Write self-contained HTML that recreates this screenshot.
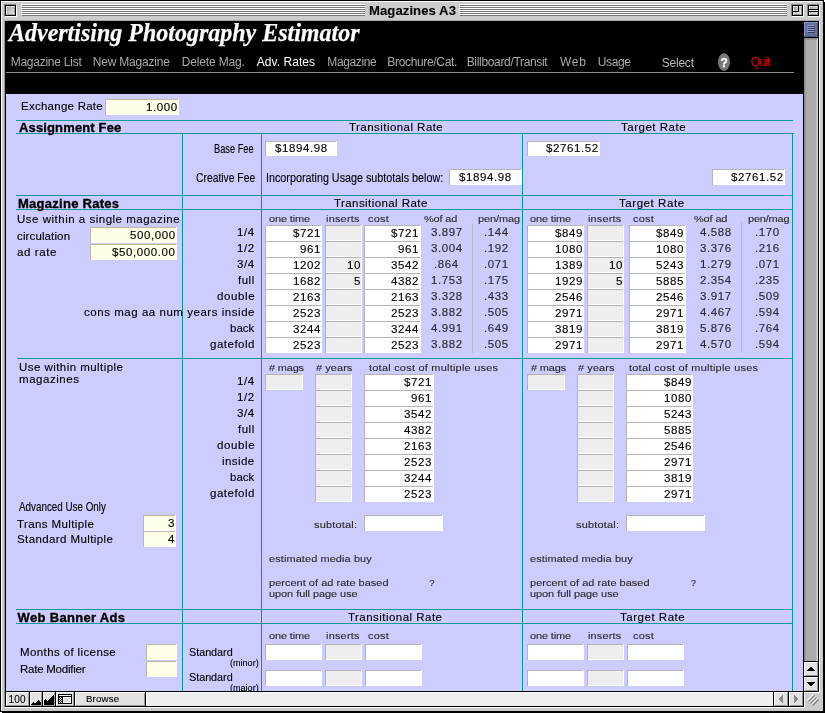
<!DOCTYPE html>
<html><head><meta charset="utf-8"><title>Magazines A3</title>
<style>
html,body{margin:0;padding:0;background:#fff}
#w{will-change:transform;position:relative;width:825px;height:713px;overflow:hidden;background:#fff;font-family:'Liberation Sans',sans-serif}
#w i{position:absolute;display:block}
#w b{position:absolute;display:block;white-space:pre;font-weight:normal;transform-origin:0 0}
#w svg{position:absolute;display:block}
</style></head>
<body><div id="w">
<i style="left:0px;top:0px;width:824px;height:712px;background:#000"></i>
<i style="left:824px;top:2px;width:1px;height:711px;background:#000"></i>
<i style="left:2px;top:712px;width:823px;height:1px;background:#000"></i>
<i style="left:1px;top:1px;width:822px;height:710px;background:#cccccc"></i>
<i style="left:1px;top:1px;width:821px;height:1px;background:#fff"></i>
<i style="left:1px;top:1px;width:1px;height:709px;background:#fff"></i>
<i style="left:822px;top:2px;width:1px;height:709px;background:#c4c4c4"></i>
<i style="left:2px;top:710px;width:821px;height:1px;background:#c4c4c4"></i>
<i style="left:4px;top:21px;width:1px;height:686px;background:#999"></i>
<i style="left:4px;top:20px;width:815px;height:1px;background:#a4a4a4"></i>
<i style="left:21px;top:4px;width:344px;height:1px;background:#fff"></i>
<i style="left:22px;top:5px;width:343px;height:1px;background:#777"></i>
<i style="left:21px;top:6px;width:344px;height:1px;background:#fff"></i>
<i style="left:22px;top:7px;width:343px;height:1px;background:#777"></i>
<i style="left:21px;top:8px;width:344px;height:1px;background:#fff"></i>
<i style="left:22px;top:9px;width:343px;height:1px;background:#777"></i>
<i style="left:21px;top:10px;width:344px;height:1px;background:#fff"></i>
<i style="left:22px;top:11px;width:343px;height:1px;background:#777"></i>
<i style="left:21px;top:12px;width:344px;height:1px;background:#fff"></i>
<i style="left:22px;top:13px;width:343px;height:1px;background:#777"></i>
<i style="left:21px;top:14px;width:344px;height:1px;background:#fff"></i>
<i style="left:22px;top:15px;width:343px;height:1px;background:#777"></i>
<i style="left:459px;top:4px;width:328px;height:1px;background:#fff"></i>
<i style="left:460px;top:5px;width:327px;height:1px;background:#777"></i>
<i style="left:459px;top:6px;width:328px;height:1px;background:#fff"></i>
<i style="left:460px;top:7px;width:327px;height:1px;background:#777"></i>
<i style="left:459px;top:8px;width:328px;height:1px;background:#fff"></i>
<i style="left:460px;top:9px;width:327px;height:1px;background:#777"></i>
<i style="left:459px;top:10px;width:328px;height:1px;background:#fff"></i>
<i style="left:460px;top:11px;width:327px;height:1px;background:#777"></i>
<i style="left:459px;top:12px;width:328px;height:1px;background:#fff"></i>
<i style="left:460px;top:13px;width:327px;height:1px;background:#777"></i>
<i style="left:459px;top:14px;width:328px;height:1px;background:#fff"></i>
<i style="left:460px;top:15px;width:327px;height:1px;background:#777"></i>
<i style="left:4px;top:4px;width:12px;height:1px;background:#888"></i>
<i style="left:4px;top:4px;width:1px;height:12px;background:#888"></i>
<i style="left:5px;top:16px;width:12px;height:1px;background:#fff"></i>
<i style="left:16px;top:5px;width:1px;height:12px;background:#fff"></i>
<i style="left:5px;top:5px;width:11px;height:11px;background:#000"></i>
<i style="left:6px;top:6px;width:9px;height:9px;background:linear-gradient(135deg,#999 0%,#bbb 35%,#eee 100%)"></i>
<i style="left:6px;top:6px;width:9px;height:1px;background:#ddd"></i>
<i style="left:6px;top:6px;width:1px;height:9px;background:#ddd"></i>
<i style="left:6px;top:6px;width:1px;height:1px;background:#fff"></i>
<i style="left:13px;top:13px;width:1px;height:1px;background:#fff"></i>
<i style="left:7px;top:14px;width:8px;height:1px;background:#999"></i>
<i style="left:14px;top:7px;width:1px;height:8px;background:#999"></i>
<i style="left:791px;top:4px;width:12px;height:1px;background:#888"></i>
<i style="left:791px;top:4px;width:1px;height:12px;background:#888"></i>
<i style="left:792px;top:16px;width:12px;height:1px;background:#fff"></i>
<i style="left:803px;top:5px;width:1px;height:12px;background:#fff"></i>
<i style="left:792px;top:5px;width:11px;height:11px;background:#000"></i>
<i style="left:793px;top:6px;width:9px;height:9px;background:linear-gradient(135deg,#999 0%,#bbb 35%,#eee 100%)"></i>
<i style="left:793px;top:6px;width:9px;height:1px;background:#ddd"></i>
<i style="left:793px;top:6px;width:1px;height:9px;background:#ddd"></i>
<i style="left:793px;top:6px;width:1px;height:1px;background:#fff"></i>
<i style="left:800px;top:13px;width:1px;height:1px;background:#fff"></i>
<i style="left:794px;top:14px;width:8px;height:1px;background:#999"></i>
<i style="left:801px;top:7px;width:1px;height:8px;background:#999"></i>
<i style="left:807px;top:4px;width:12px;height:1px;background:#888"></i>
<i style="left:807px;top:4px;width:1px;height:12px;background:#888"></i>
<i style="left:808px;top:16px;width:12px;height:1px;background:#fff"></i>
<i style="left:819px;top:5px;width:1px;height:12px;background:#fff"></i>
<i style="left:808px;top:5px;width:11px;height:11px;background:#000"></i>
<i style="left:809px;top:6px;width:9px;height:9px;background:linear-gradient(135deg,#999 0%,#bbb 35%,#eee 100%)"></i>
<i style="left:809px;top:6px;width:9px;height:1px;background:#ddd"></i>
<i style="left:809px;top:6px;width:1px;height:9px;background:#ddd"></i>
<i style="left:809px;top:6px;width:1px;height:1px;background:#fff"></i>
<i style="left:816px;top:13px;width:1px;height:1px;background:#fff"></i>
<i style="left:810px;top:14px;width:8px;height:1px;background:#999"></i>
<i style="left:817px;top:7px;width:1px;height:8px;background:#999"></i>
<i style="left:793px;top:11px;width:6px;height:1px;background:#000"></i>
<i style="left:798px;top:6px;width:1px;height:6px;background:#000"></i>
<i style="left:809px;top:9px;width:9px;height:1px;background:#000"></i>
<i style="left:809px;top:11px;width:9px;height:1px;background:#000"></i>
<i style="left:809px;top:10px;width:9px;height:1px;background:#eee"></i>
<b style="left:368.50px;top:4px;font:normal bold 12.5px/14px 'Liberation Sans';letter-spacing:0.055px;color:#000;transform:scaleX(1.0500);-webkit-text-stroke:0.1px;">Magazines A3</b>
<i style="left:5px;top:21px;width:814px;height:686px;background:#000"></i>
<i style="left:819px;top:21px;width:1px;height:672px;background:#fff"></i>
<i style="left:804px;top:692px;width:16px;height:1px;background:#fff"></i>
<i style="left:804px;top:692px;width:1px;height:16px;background:#fff"></i>
<i style="left:5px;top:707px;width:800px;height:1px;background:#fff"></i>
<i style="left:805px;top:693px;width:18px;height:14px;background:#cccccc"></i>
<i style="left:6px;top:94px;width:797px;height:597px;background:#ccccff"></i>
<b style="left:9.27px;top:18px;font:italic bold 26px/29px 'Liberation Serif';letter-spacing:0.000px;color:#fff;transform:scaleX(0.9224);-webkit-text-stroke:0.25px;">Advertising Photography Estimator</b>
<b style="left:10.70px;top:55px;font:normal normal 12px/14px 'Liberation Sans';letter-spacing:-0.250px;color:#aaaaaa;">Magazine List</b>
<b style="left:92.70px;top:55px;font:normal normal 12px/14px 'Liberation Sans';letter-spacing:-0.189px;color:#aaaaaa;">New Magazine</b>
<b style="left:181.70px;top:55px;font:normal normal 12px/14px 'Liberation Sans';letter-spacing:-0.145px;color:#aaaaaa;">Delete Mag.</b>
<b style="left:256.70px;top:55px;font:normal normal 12px/14px 'Liberation Sans';letter-spacing:0.061px;color:#fff;">Adv. Rates</b>
<b style="left:327.30px;top:55px;font:normal normal 12px/14px 'Liberation Sans';letter-spacing:-0.371px;color:#aaaaaa;">Magazine</b>
<b style="left:387.30px;top:55px;font:normal normal 12px/14px 'Liberation Sans';letter-spacing:-0.333px;color:#aaaaaa;">Brochure/Cat.</b>
<b style="left:466.70px;top:55px;font:normal normal 12px/14px 'Liberation Sans';letter-spacing:-0.328px;color:#aaaaaa;">Billboard/Transit</b>
<b style="left:560.00px;top:55px;font:normal normal 12px/14px 'Liberation Sans';letter-spacing:0.750px;color:#aaaaaa;">Web</b>
<b style="left:597.70px;top:55px;font:normal normal 12px/14px 'Liberation Sans';letter-spacing:-0.363px;color:#aaaaaa;">Usage</b>
<b style="left:661.70px;top:56px;font:normal normal 12px/14px 'Liberation Sans';letter-spacing:-0.215px;color:#bbbbbb;">Select</b>
<b style="left:750.80px;top:55px;font:normal normal 12px/14px 'Liberation Sans';letter-spacing:-0.700px;color:#e00000;">Quit</b>
<i style="left:6px;top:72px;width:788px;height:1px;background:#8c8c8c"></i>
<i style="left:718px;top:53px;width:12px;height:18px;border-radius:50%;background:#777"></i>
<b style="left:720.51px;top:56px;font:normal bold 12px/14px 'Liberation Sans';letter-spacing:0.000px;color:#fff;-webkit-text-stroke:0.35px;">?</b>
<i style="left:16px;top:120px;width:777px;height:1px;background:#009999"></i>
<i style="left:16px;top:133px;width:778px;height:1px;background:#009999"></i>
<i style="left:16px;top:195px;width:777px;height:1px;background:#009999"></i>
<i style="left:16px;top:209px;width:777px;height:1px;background:#009999"></i>
<i style="left:17px;top:358px;width:776px;height:1px;background:#009999"></i>
<i style="left:16px;top:609px;width:777px;height:1px;background:#009999"></i>
<i style="left:16px;top:623px;width:777px;height:1px;background:#009999"></i>
<i style="left:182px;top:133px;width:1px;height:558px;background:#009999"></i>
<i style="left:261px;top:133px;width:1px;height:558px;background:#009999"></i>
<i style="left:522px;top:133px;width:1px;height:558px;background:#009999"></i>
<i style="left:792px;top:133px;width:1px;height:558px;background:#009999"></i>
<i style="left:472px;top:224px;width:1px;height:129px;background:#bbbbbb"></i>
<i style="left:741px;top:222px;width:1px;height:131px;background:#bbbbbb"></i>
<b style="left:21.30px;top:101px;font:normal normal 10px/11px 'Liberation Sans';letter-spacing:0.222px;color:#000;transform:scaleX(1.1500);-webkit-text-stroke:0.12px;">Exchange Rate</b>
<i style="left:105px;top:99px;width:74px;height:16px;background:#ffffe8"></i>
<i style="left:106px;top:114px;width:73px;height:1px;background:#fff"></i>
<i style="left:178px;top:99px;width:1px;height:16px;background:#fff"></i>
<i style="left:105px;top:99px;width:73px;height:1px;background:#b9b9a6"></i>
<i style="left:105px;top:99px;width:1px;height:16px;background:#b9b9a6"></i>
<b style="left:145.84px;top:102px;font:normal normal 10px/11px 'Liberation Sans';letter-spacing:0.524px;color:#000;transform:scaleX(1.1500);-webkit-text-stroke:0.12px;">1.000</b>
<b style="left:19.00px;top:120px;font:normal bold 13px/15px 'Liberation Sans';letter-spacing:0.140px;color:#000;-webkit-text-stroke:0.35px;">Assignment Fee</b>
<b style="left:348.60px;top:122px;font:normal normal 10px/11px 'Liberation Sans';letter-spacing:0.395px;color:#000;transform:scaleX(1.1500);-webkit-text-stroke:0.12px;">Transitional Rate</b>
<b style="left:621.30px;top:122px;font:normal normal 10px/11px 'Liberation Sans';letter-spacing:0.451px;color:#000;transform:scaleX(1.1500);-webkit-text-stroke:0.12px;">Target Rate</b>
<b style="left:213.60px;top:141px;font:normal normal 13px/15px 'Liberation Sans';letter-spacing:0.000px;color:#000;transform:scaleX(0.7119);-webkit-text-stroke:0.12px;">Base Fee</b>
<b style="left:195.90px;top:170px;font:normal normal 13px/15px 'Liberation Sans';letter-spacing:0.000px;color:#000;transform:scaleX(0.7946);-webkit-text-stroke:0.12px;">Creative Fee</b>
<b style="left:265.50px;top:170px;font:normal normal 13px/15px 'Liberation Sans';letter-spacing:0.000px;color:#000;transform:scaleX(0.8285);-webkit-text-stroke:0.12px;">Incorporating Usage subtotals below:</b>
<i style="left:265px;top:141px;width:72px;height:15px;background:#fff"></i>
<i style="left:266px;top:155px;width:71px;height:1px;background:#fff"></i>
<i style="left:336px;top:141px;width:1px;height:15px;background:#fff"></i>
<i style="left:265px;top:141px;width:71px;height:1px;background:#b4b4b4"></i>
<i style="left:265px;top:141px;width:1px;height:15px;background:#b4b4b4"></i>
<b style="left:274.58px;top:143px;font:normal normal 10px/11px 'Liberation Sans';letter-spacing:0.524px;color:#000;transform:scaleX(1.1500);-webkit-text-stroke:0.12px;">$1894.98</b>
<i style="left:449px;top:169px;width:73px;height:16px;background:#fff"></i>
<i style="left:450px;top:184px;width:72px;height:1px;background:#fff"></i>
<i style="left:521px;top:169px;width:1px;height:16px;background:#fff"></i>
<i style="left:449px;top:169px;width:72px;height:1px;background:#b4b4b4"></i>
<i style="left:449px;top:169px;width:1px;height:16px;background:#b4b4b4"></i>
<b style="left:459.38px;top:172px;font:normal normal 10px/11px 'Liberation Sans';letter-spacing:0.524px;color:#000;transform:scaleX(1.1500);-webkit-text-stroke:0.12px;">$1894.98</b>
<i style="left:527px;top:141px;width:73px;height:15px;background:#fff"></i>
<i style="left:528px;top:155px;width:72px;height:1px;background:#fff"></i>
<i style="left:599px;top:141px;width:1px;height:15px;background:#fff"></i>
<i style="left:527px;top:141px;width:72px;height:1px;background:#b4b4b4"></i>
<i style="left:527px;top:141px;width:1px;height:15px;background:#b4b4b4"></i>
<b style="left:545.77px;top:143px;font:normal normal 10px/11px 'Liberation Sans';letter-spacing:0.524px;color:#000;transform:scaleX(1.1500);-webkit-text-stroke:0.12px;">$2761.52</b>
<i style="left:712px;top:169px;width:73px;height:16px;background:#fff"></i>
<i style="left:713px;top:184px;width:72px;height:1px;background:#fff"></i>
<i style="left:784px;top:169px;width:1px;height:16px;background:#fff"></i>
<i style="left:712px;top:169px;width:72px;height:1px;background:#b4b4b4"></i>
<i style="left:712px;top:169px;width:1px;height:16px;background:#b4b4b4"></i>
<b style="left:730.77px;top:172px;font:normal normal 10px/11px 'Liberation Sans';letter-spacing:0.524px;color:#000;transform:scaleX(1.1500);-webkit-text-stroke:0.12px;">$2761.52</b>
<b style="left:18.00px;top:196px;font:normal bold 13px/15px 'Liberation Sans';letter-spacing:0.269px;color:#000;-webkit-text-stroke:0.35px;">Magazine Rates</b>
<b style="left:334.00px;top:198px;font:normal normal 10px/11px 'Liberation Sans';letter-spacing:0.368px;color:#000;transform:scaleX(1.1500);-webkit-text-stroke:0.12px;">Transitional Rate</b>
<b style="left:619.10px;top:198px;font:normal normal 10px/11px 'Liberation Sans';letter-spacing:0.486px;color:#000;transform:scaleX(1.1500);-webkit-text-stroke:0.12px;">Target Rate</b>
<b style="left:17.00px;top:214px;font:normal normal 10px/11px 'Liberation Sans';letter-spacing:0.440px;color:#000;transform:scaleX(1.1500);-webkit-text-stroke:0.12px;">Use within a single magazine</b>
<b style="left:17.00px;top:231px;font:normal normal 10px/11px 'Liberation Sans';letter-spacing:0.109px;color:#000;transform:scaleX(1.1500);-webkit-text-stroke:0.12px;">circulation</b>
<b style="left:17.00px;top:247px;font:normal normal 10px/11px 'Liberation Sans';letter-spacing:0.508px;color:#000;transform:scaleX(1.1500);-webkit-text-stroke:0.12px;">ad rate</b>
<i style="left:90px;top:227px;width:87px;height:16px;background:#ffffe8"></i>
<i style="left:91px;top:242px;width:86px;height:1px;background:#fff"></i>
<i style="left:176px;top:227px;width:1px;height:16px;background:#fff"></i>
<i style="left:90px;top:227px;width:86px;height:1px;background:#b9b9a6"></i>
<i style="left:90px;top:227px;width:1px;height:16px;background:#b9b9a6"></i>
<b style="left:129.84px;top:230px;font:normal normal 10px/11px 'Liberation Sans';letter-spacing:0.524px;color:#000;transform:scaleX(1.1500);-webkit-text-stroke:0.12px;">500,000</b>
<i style="left:90px;top:244px;width:87px;height:16px;background:#ffffe8"></i>
<i style="left:91px;top:259px;width:86px;height:1px;background:#fff"></i>
<i style="left:176px;top:244px;width:1px;height:16px;background:#fff"></i>
<i style="left:90px;top:244px;width:86px;height:1px;background:#b9b9a6"></i>
<i style="left:90px;top:244px;width:1px;height:16px;background:#b9b9a6"></i>
<b style="left:112.07px;top:247px;font:normal normal 10px/11px 'Liberation Sans';letter-spacing:0.524px;color:#000;transform:scaleX(1.1500);-webkit-text-stroke:0.12px;">$50,000.00</b>
<b style="left:237.00px;top:227px;font:normal normal 10px/11px 'Liberation Sans';letter-spacing:0.541px;color:#000;transform:scaleX(1.1500);-webkit-text-stroke:0.12px;">1/4</b>
<b style="left:237.00px;top:243px;font:normal normal 10px/11px 'Liberation Sans';letter-spacing:0.541px;color:#000;transform:scaleX(1.1500);-webkit-text-stroke:0.12px;">1/2</b>
<b style="left:237.00px;top:259px;font:normal normal 10px/11px 'Liberation Sans';letter-spacing:0.541px;color:#000;transform:scaleX(1.1500);-webkit-text-stroke:0.12px;">3/4</b>
<b style="left:238.00px;top:275px;font:normal normal 10px/11px 'Liberation Sans';letter-spacing:0.446px;color:#000;transform:scaleX(1.1500);-webkit-text-stroke:0.12px;">full</b>
<b style="left:216.60px;top:291px;font:normal normal 10px/11px 'Liberation Sans';letter-spacing:0.539px;color:#000;transform:scaleX(1.1500);-webkit-text-stroke:0.12px;">double</b>
<b style="left:83.70px;top:307px;font:normal normal 10px/11px 'Liberation Sans';letter-spacing:0.468px;color:#000;transform:scaleX(1.1500);-webkit-text-stroke:0.12px;">cons mag aa num years inside</b>
<b style="left:229.80px;top:323px;font:normal normal 10px/11px 'Liberation Sans';letter-spacing:-0.011px;color:#000;transform:scaleX(1.1500);-webkit-text-stroke:0.12px;">back</b>
<b style="left:209.70px;top:339px;font:normal normal 10px/11px 'Liberation Sans';letter-spacing:0.439px;color:#000;transform:scaleX(1.1500);-webkit-text-stroke:0.12px;">gatefold</b>
<b style="left:269.00px;top:213px;font:normal normal 9.5px/11px 'Liberation Sans';letter-spacing:-0.103px;color:#2a2a2a;transform:scaleX(1.1500);-webkit-text-stroke:0.12px;">one time</b>
<b style="left:325.50px;top:213px;font:normal normal 9.5px/11px 'Liberation Sans';letter-spacing:0.188px;color:#2a2a2a;transform:scaleX(1.1500);-webkit-text-stroke:0.12px;">inserts</b>
<b style="left:368.00px;top:213px;font:normal normal 9.5px/11px 'Liberation Sans';letter-spacing:0.208px;color:#2a2a2a;transform:scaleX(1.1500);-webkit-text-stroke:0.12px;">cost</b>
<b style="left:424.00px;top:213px;font:normal normal 9.5px/11px 'Liberation Sans';letter-spacing:-0.134px;color:#2a2a2a;transform:scaleX(1.1500);-webkit-text-stroke:0.12px;">%of ad</b>
<b style="left:477.60px;top:213px;font:normal normal 9.5px/11px 'Liberation Sans';letter-spacing:-0.065px;color:#2a2a2a;transform:scaleX(1.1500);-webkit-text-stroke:0.12px;">pen/mag</b>
<b style="left:530.00px;top:213px;font:normal normal 9.5px/11px 'Liberation Sans';letter-spacing:-0.103px;color:#2a2a2a;transform:scaleX(1.1500);-webkit-text-stroke:0.12px;">one time</b>
<b style="left:587.70px;top:213px;font:normal normal 9.5px/11px 'Liberation Sans';letter-spacing:0.159px;color:#2a2a2a;transform:scaleX(1.1500);-webkit-text-stroke:0.12px;">inserts</b>
<b style="left:633.00px;top:213px;font:normal normal 9.5px/11px 'Liberation Sans';letter-spacing:0.237px;color:#2a2a2a;transform:scaleX(1.1500);-webkit-text-stroke:0.12px;">cost</b>
<b style="left:694.00px;top:213px;font:normal normal 9.5px/11px 'Liberation Sans';letter-spacing:-0.099px;color:#2a2a2a;transform:scaleX(1.1500);-webkit-text-stroke:0.12px;">%of ad</b>
<b style="left:747.70px;top:213px;font:normal normal 9.5px/11px 'Liberation Sans';letter-spacing:-0.152px;color:#2a2a2a;transform:scaleX(1.1500);-webkit-text-stroke:0.12px;">pen/mag</b>
<i style="left:265px;top:225px;width:57px;height:16px;background:#fff"></i>
<i style="left:266px;top:240px;width:56px;height:1px;background:#fff"></i>
<i style="left:321px;top:225px;width:1px;height:16px;background:#fff"></i>
<i style="left:265px;top:225px;width:56px;height:1px;background:#b4b4b4"></i>
<i style="left:265px;top:225px;width:1px;height:16px;background:#b4b4b4"></i>
<b style="left:292.60px;top:228px;font:normal normal 10px/11px 'Liberation Sans';letter-spacing:0.524px;color:#000;transform:scaleX(1.1500);-webkit-text-stroke:0.12px;">$721</b>
<i style="left:265px;top:241px;width:57px;height:16px;background:#fff"></i>
<i style="left:266px;top:256px;width:56px;height:1px;background:#fff"></i>
<i style="left:321px;top:241px;width:1px;height:16px;background:#fff"></i>
<i style="left:265px;top:241px;width:56px;height:1px;background:#b4b4b4"></i>
<i style="left:265px;top:241px;width:1px;height:16px;background:#b4b4b4"></i>
<b style="left:299.53px;top:244px;font:normal normal 10px/11px 'Liberation Sans';letter-spacing:0.524px;color:#000;transform:scaleX(1.1500);-webkit-text-stroke:0.12px;">961</b>
<i style="left:265px;top:257px;width:57px;height:16px;background:#fff"></i>
<i style="left:266px;top:272px;width:56px;height:1px;background:#fff"></i>
<i style="left:321px;top:257px;width:1px;height:16px;background:#fff"></i>
<i style="left:265px;top:257px;width:56px;height:1px;background:#b4b4b4"></i>
<i style="left:265px;top:257px;width:1px;height:16px;background:#b4b4b4"></i>
<b style="left:292.60px;top:260px;font:normal normal 10px/11px 'Liberation Sans';letter-spacing:0.524px;color:#000;transform:scaleX(1.1500);-webkit-text-stroke:0.12px;">1202</b>
<i style="left:265px;top:273px;width:57px;height:16px;background:#fff"></i>
<i style="left:266px;top:288px;width:56px;height:1px;background:#fff"></i>
<i style="left:321px;top:273px;width:1px;height:16px;background:#fff"></i>
<i style="left:265px;top:273px;width:56px;height:1px;background:#b4b4b4"></i>
<i style="left:265px;top:273px;width:1px;height:16px;background:#b4b4b4"></i>
<b style="left:292.60px;top:276px;font:normal normal 10px/11px 'Liberation Sans';letter-spacing:0.524px;color:#000;transform:scaleX(1.1500);-webkit-text-stroke:0.12px;">1682</b>
<i style="left:265px;top:289px;width:57px;height:16px;background:#fff"></i>
<i style="left:266px;top:304px;width:56px;height:1px;background:#fff"></i>
<i style="left:321px;top:289px;width:1px;height:16px;background:#fff"></i>
<i style="left:265px;top:289px;width:56px;height:1px;background:#b4b4b4"></i>
<i style="left:265px;top:289px;width:1px;height:16px;background:#b4b4b4"></i>
<b style="left:292.60px;top:292px;font:normal normal 10px/11px 'Liberation Sans';letter-spacing:0.524px;color:#000;transform:scaleX(1.1500);-webkit-text-stroke:0.12px;">2163</b>
<i style="left:265px;top:305px;width:57px;height:16px;background:#fff"></i>
<i style="left:266px;top:320px;width:56px;height:1px;background:#fff"></i>
<i style="left:321px;top:305px;width:1px;height:16px;background:#fff"></i>
<i style="left:265px;top:305px;width:56px;height:1px;background:#b4b4b4"></i>
<i style="left:265px;top:305px;width:1px;height:16px;background:#b4b4b4"></i>
<b style="left:292.60px;top:308px;font:normal normal 10px/11px 'Liberation Sans';letter-spacing:0.524px;color:#000;transform:scaleX(1.1500);-webkit-text-stroke:0.12px;">2523</b>
<i style="left:265px;top:321px;width:57px;height:16px;background:#fff"></i>
<i style="left:266px;top:336px;width:56px;height:1px;background:#fff"></i>
<i style="left:321px;top:321px;width:1px;height:16px;background:#fff"></i>
<i style="left:265px;top:321px;width:56px;height:1px;background:#b4b4b4"></i>
<i style="left:265px;top:321px;width:1px;height:16px;background:#b4b4b4"></i>
<b style="left:292.60px;top:324px;font:normal normal 10px/11px 'Liberation Sans';letter-spacing:0.524px;color:#000;transform:scaleX(1.1500);-webkit-text-stroke:0.12px;">3244</b>
<i style="left:265px;top:337px;width:57px;height:16px;background:#fff"></i>
<i style="left:266px;top:352px;width:56px;height:1px;background:#fff"></i>
<i style="left:321px;top:337px;width:1px;height:16px;background:#fff"></i>
<i style="left:265px;top:337px;width:56px;height:1px;background:#b4b4b4"></i>
<i style="left:265px;top:337px;width:1px;height:16px;background:#b4b4b4"></i>
<b style="left:292.60px;top:340px;font:normal normal 10px/11px 'Liberation Sans';letter-spacing:0.524px;color:#000;transform:scaleX(1.1500);-webkit-text-stroke:0.12px;">2523</b>
<i style="left:325px;top:225px;width:37px;height:16px;background:#eeeeee"></i>
<i style="left:326px;top:240px;width:36px;height:1px;background:#fff"></i>
<i style="left:361px;top:225px;width:1px;height:16px;background:#fff"></i>
<i style="left:325px;top:225px;width:36px;height:1px;background:#b4b4b4"></i>
<i style="left:325px;top:225px;width:1px;height:16px;background:#b4b4b4"></i>
<i style="left:325px;top:241px;width:37px;height:16px;background:#eeeeee"></i>
<i style="left:326px;top:256px;width:36px;height:1px;background:#fff"></i>
<i style="left:361px;top:241px;width:1px;height:16px;background:#fff"></i>
<i style="left:325px;top:241px;width:36px;height:1px;background:#b4b4b4"></i>
<i style="left:325px;top:241px;width:1px;height:16px;background:#b4b4b4"></i>
<i style="left:325px;top:257px;width:37px;height:16px;background:#eeeeee"></i>
<i style="left:326px;top:272px;width:36px;height:1px;background:#fff"></i>
<i style="left:361px;top:257px;width:1px;height:16px;background:#fff"></i>
<i style="left:325px;top:257px;width:36px;height:1px;background:#b4b4b4"></i>
<i style="left:325px;top:257px;width:1px;height:16px;background:#b4b4b4"></i>
<b style="left:346.60px;top:260px;font:normal normal 10px/11px 'Liberation Sans';letter-spacing:0.524px;color:#000;transform:scaleX(1.1500);-webkit-text-stroke:0.12px;">10</b>
<i style="left:325px;top:273px;width:37px;height:16px;background:#eeeeee"></i>
<i style="left:326px;top:288px;width:36px;height:1px;background:#fff"></i>
<i style="left:361px;top:273px;width:1px;height:16px;background:#fff"></i>
<i style="left:325px;top:273px;width:36px;height:1px;background:#b4b4b4"></i>
<i style="left:325px;top:273px;width:1px;height:16px;background:#b4b4b4"></i>
<b style="left:353.53px;top:276px;font:normal normal 10px/11px 'Liberation Sans';letter-spacing:0.524px;color:#000;transform:scaleX(1.1500);-webkit-text-stroke:0.12px;">5</b>
<i style="left:325px;top:289px;width:37px;height:16px;background:#eeeeee"></i>
<i style="left:326px;top:304px;width:36px;height:1px;background:#fff"></i>
<i style="left:361px;top:289px;width:1px;height:16px;background:#fff"></i>
<i style="left:325px;top:289px;width:36px;height:1px;background:#b4b4b4"></i>
<i style="left:325px;top:289px;width:1px;height:16px;background:#b4b4b4"></i>
<i style="left:325px;top:305px;width:37px;height:16px;background:#eeeeee"></i>
<i style="left:326px;top:320px;width:36px;height:1px;background:#fff"></i>
<i style="left:361px;top:305px;width:1px;height:16px;background:#fff"></i>
<i style="left:325px;top:305px;width:36px;height:1px;background:#b4b4b4"></i>
<i style="left:325px;top:305px;width:1px;height:16px;background:#b4b4b4"></i>
<i style="left:325px;top:321px;width:37px;height:16px;background:#eeeeee"></i>
<i style="left:326px;top:336px;width:36px;height:1px;background:#fff"></i>
<i style="left:361px;top:321px;width:1px;height:16px;background:#fff"></i>
<i style="left:325px;top:321px;width:36px;height:1px;background:#b4b4b4"></i>
<i style="left:325px;top:321px;width:1px;height:16px;background:#b4b4b4"></i>
<i style="left:325px;top:337px;width:37px;height:16px;background:#eeeeee"></i>
<i style="left:326px;top:352px;width:36px;height:1px;background:#fff"></i>
<i style="left:361px;top:337px;width:1px;height:16px;background:#fff"></i>
<i style="left:325px;top:337px;width:36px;height:1px;background:#b4b4b4"></i>
<i style="left:325px;top:337px;width:1px;height:16px;background:#b4b4b4"></i>
<i style="left:364px;top:225px;width:57px;height:16px;background:#fff"></i>
<i style="left:365px;top:240px;width:56px;height:1px;background:#fff"></i>
<i style="left:420px;top:225px;width:1px;height:16px;background:#fff"></i>
<i style="left:364px;top:225px;width:56px;height:1px;background:#b4b4b4"></i>
<i style="left:364px;top:225px;width:1px;height:16px;background:#b4b4b4"></i>
<b style="left:390.60px;top:228px;font:normal normal 10px/11px 'Liberation Sans';letter-spacing:0.524px;color:#000;transform:scaleX(1.1500);-webkit-text-stroke:0.12px;">$721</b>
<i style="left:364px;top:241px;width:57px;height:16px;background:#fff"></i>
<i style="left:365px;top:256px;width:56px;height:1px;background:#fff"></i>
<i style="left:420px;top:241px;width:1px;height:16px;background:#fff"></i>
<i style="left:364px;top:241px;width:56px;height:1px;background:#b4b4b4"></i>
<i style="left:364px;top:241px;width:1px;height:16px;background:#b4b4b4"></i>
<b style="left:397.53px;top:244px;font:normal normal 10px/11px 'Liberation Sans';letter-spacing:0.524px;color:#000;transform:scaleX(1.1500);-webkit-text-stroke:0.12px;">961</b>
<i style="left:364px;top:257px;width:57px;height:16px;background:#fff"></i>
<i style="left:365px;top:272px;width:56px;height:1px;background:#fff"></i>
<i style="left:420px;top:257px;width:1px;height:16px;background:#fff"></i>
<i style="left:364px;top:257px;width:56px;height:1px;background:#b4b4b4"></i>
<i style="left:364px;top:257px;width:1px;height:16px;background:#b4b4b4"></i>
<b style="left:390.60px;top:260px;font:normal normal 10px/11px 'Liberation Sans';letter-spacing:0.524px;color:#000;transform:scaleX(1.1500);-webkit-text-stroke:0.12px;">3542</b>
<i style="left:364px;top:273px;width:57px;height:16px;background:#fff"></i>
<i style="left:365px;top:288px;width:56px;height:1px;background:#fff"></i>
<i style="left:420px;top:273px;width:1px;height:16px;background:#fff"></i>
<i style="left:364px;top:273px;width:56px;height:1px;background:#b4b4b4"></i>
<i style="left:364px;top:273px;width:1px;height:16px;background:#b4b4b4"></i>
<b style="left:390.60px;top:276px;font:normal normal 10px/11px 'Liberation Sans';letter-spacing:0.524px;color:#000;transform:scaleX(1.1500);-webkit-text-stroke:0.12px;">4382</b>
<i style="left:364px;top:289px;width:57px;height:16px;background:#fff"></i>
<i style="left:365px;top:304px;width:56px;height:1px;background:#fff"></i>
<i style="left:420px;top:289px;width:1px;height:16px;background:#fff"></i>
<i style="left:364px;top:289px;width:56px;height:1px;background:#b4b4b4"></i>
<i style="left:364px;top:289px;width:1px;height:16px;background:#b4b4b4"></i>
<b style="left:390.60px;top:292px;font:normal normal 10px/11px 'Liberation Sans';letter-spacing:0.524px;color:#000;transform:scaleX(1.1500);-webkit-text-stroke:0.12px;">2163</b>
<i style="left:364px;top:305px;width:57px;height:16px;background:#fff"></i>
<i style="left:365px;top:320px;width:56px;height:1px;background:#fff"></i>
<i style="left:420px;top:305px;width:1px;height:16px;background:#fff"></i>
<i style="left:364px;top:305px;width:56px;height:1px;background:#b4b4b4"></i>
<i style="left:364px;top:305px;width:1px;height:16px;background:#b4b4b4"></i>
<b style="left:390.60px;top:308px;font:normal normal 10px/11px 'Liberation Sans';letter-spacing:0.524px;color:#000;transform:scaleX(1.1500);-webkit-text-stroke:0.12px;">2523</b>
<i style="left:364px;top:321px;width:57px;height:16px;background:#fff"></i>
<i style="left:365px;top:336px;width:56px;height:1px;background:#fff"></i>
<i style="left:420px;top:321px;width:1px;height:16px;background:#fff"></i>
<i style="left:364px;top:321px;width:56px;height:1px;background:#b4b4b4"></i>
<i style="left:364px;top:321px;width:1px;height:16px;background:#b4b4b4"></i>
<b style="left:390.60px;top:324px;font:normal normal 10px/11px 'Liberation Sans';letter-spacing:0.524px;color:#000;transform:scaleX(1.1500);-webkit-text-stroke:0.12px;">3244</b>
<i style="left:364px;top:337px;width:57px;height:16px;background:#fff"></i>
<i style="left:365px;top:352px;width:56px;height:1px;background:#fff"></i>
<i style="left:420px;top:337px;width:1px;height:16px;background:#fff"></i>
<i style="left:364px;top:337px;width:56px;height:1px;background:#b4b4b4"></i>
<i style="left:364px;top:337px;width:1px;height:16px;background:#b4b4b4"></i>
<b style="left:390.60px;top:340px;font:normal normal 10px/11px 'Liberation Sans';letter-spacing:0.524px;color:#000;transform:scaleX(1.1500);-webkit-text-stroke:0.12px;">2523</b>
<i style="left:527px;top:225px;width:57px;height:16px;background:#fff"></i>
<i style="left:528px;top:240px;width:56px;height:1px;background:#fff"></i>
<i style="left:583px;top:225px;width:1px;height:16px;background:#fff"></i>
<i style="left:527px;top:225px;width:56px;height:1px;background:#b4b4b4"></i>
<i style="left:527px;top:225px;width:1px;height:16px;background:#b4b4b4"></i>
<b style="left:554.60px;top:228px;font:normal normal 10px/11px 'Liberation Sans';letter-spacing:0.524px;color:#000;transform:scaleX(1.1500);-webkit-text-stroke:0.12px;">$849</b>
<i style="left:527px;top:241px;width:57px;height:16px;background:#fff"></i>
<i style="left:528px;top:256px;width:56px;height:1px;background:#fff"></i>
<i style="left:583px;top:241px;width:1px;height:16px;background:#fff"></i>
<i style="left:527px;top:241px;width:56px;height:1px;background:#b4b4b4"></i>
<i style="left:527px;top:241px;width:1px;height:16px;background:#b4b4b4"></i>
<b style="left:554.60px;top:244px;font:normal normal 10px/11px 'Liberation Sans';letter-spacing:0.524px;color:#000;transform:scaleX(1.1500);-webkit-text-stroke:0.12px;">1080</b>
<i style="left:527px;top:257px;width:57px;height:16px;background:#fff"></i>
<i style="left:528px;top:272px;width:56px;height:1px;background:#fff"></i>
<i style="left:583px;top:257px;width:1px;height:16px;background:#fff"></i>
<i style="left:527px;top:257px;width:56px;height:1px;background:#b4b4b4"></i>
<i style="left:527px;top:257px;width:1px;height:16px;background:#b4b4b4"></i>
<b style="left:554.60px;top:260px;font:normal normal 10px/11px 'Liberation Sans';letter-spacing:0.524px;color:#000;transform:scaleX(1.1500);-webkit-text-stroke:0.12px;">1389</b>
<i style="left:527px;top:273px;width:57px;height:16px;background:#fff"></i>
<i style="left:528px;top:288px;width:56px;height:1px;background:#fff"></i>
<i style="left:583px;top:273px;width:1px;height:16px;background:#fff"></i>
<i style="left:527px;top:273px;width:56px;height:1px;background:#b4b4b4"></i>
<i style="left:527px;top:273px;width:1px;height:16px;background:#b4b4b4"></i>
<b style="left:554.60px;top:276px;font:normal normal 10px/11px 'Liberation Sans';letter-spacing:0.524px;color:#000;transform:scaleX(1.1500);-webkit-text-stroke:0.12px;">1929</b>
<i style="left:527px;top:289px;width:57px;height:16px;background:#fff"></i>
<i style="left:528px;top:304px;width:56px;height:1px;background:#fff"></i>
<i style="left:583px;top:289px;width:1px;height:16px;background:#fff"></i>
<i style="left:527px;top:289px;width:56px;height:1px;background:#b4b4b4"></i>
<i style="left:527px;top:289px;width:1px;height:16px;background:#b4b4b4"></i>
<b style="left:554.60px;top:292px;font:normal normal 10px/11px 'Liberation Sans';letter-spacing:0.524px;color:#000;transform:scaleX(1.1500);-webkit-text-stroke:0.12px;">2546</b>
<i style="left:527px;top:305px;width:57px;height:16px;background:#fff"></i>
<i style="left:528px;top:320px;width:56px;height:1px;background:#fff"></i>
<i style="left:583px;top:305px;width:1px;height:16px;background:#fff"></i>
<i style="left:527px;top:305px;width:56px;height:1px;background:#b4b4b4"></i>
<i style="left:527px;top:305px;width:1px;height:16px;background:#b4b4b4"></i>
<b style="left:554.60px;top:308px;font:normal normal 10px/11px 'Liberation Sans';letter-spacing:0.524px;color:#000;transform:scaleX(1.1500);-webkit-text-stroke:0.12px;">2971</b>
<i style="left:527px;top:321px;width:57px;height:16px;background:#fff"></i>
<i style="left:528px;top:336px;width:56px;height:1px;background:#fff"></i>
<i style="left:583px;top:321px;width:1px;height:16px;background:#fff"></i>
<i style="left:527px;top:321px;width:56px;height:1px;background:#b4b4b4"></i>
<i style="left:527px;top:321px;width:1px;height:16px;background:#b4b4b4"></i>
<b style="left:554.60px;top:324px;font:normal normal 10px/11px 'Liberation Sans';letter-spacing:0.524px;color:#000;transform:scaleX(1.1500);-webkit-text-stroke:0.12px;">3819</b>
<i style="left:527px;top:337px;width:57px;height:16px;background:#fff"></i>
<i style="left:528px;top:352px;width:56px;height:1px;background:#fff"></i>
<i style="left:583px;top:337px;width:1px;height:16px;background:#fff"></i>
<i style="left:527px;top:337px;width:56px;height:1px;background:#b4b4b4"></i>
<i style="left:527px;top:337px;width:1px;height:16px;background:#b4b4b4"></i>
<b style="left:554.60px;top:340px;font:normal normal 10px/11px 'Liberation Sans';letter-spacing:0.524px;color:#000;transform:scaleX(1.1500);-webkit-text-stroke:0.12px;">2971</b>
<i style="left:587px;top:225px;width:37px;height:16px;background:#eeeeee"></i>
<i style="left:588px;top:240px;width:36px;height:1px;background:#fff"></i>
<i style="left:623px;top:225px;width:1px;height:16px;background:#fff"></i>
<i style="left:587px;top:225px;width:36px;height:1px;background:#b4b4b4"></i>
<i style="left:587px;top:225px;width:1px;height:16px;background:#b4b4b4"></i>
<i style="left:587px;top:241px;width:37px;height:16px;background:#eeeeee"></i>
<i style="left:588px;top:256px;width:36px;height:1px;background:#fff"></i>
<i style="left:623px;top:241px;width:1px;height:16px;background:#fff"></i>
<i style="left:587px;top:241px;width:36px;height:1px;background:#b4b4b4"></i>
<i style="left:587px;top:241px;width:1px;height:16px;background:#b4b4b4"></i>
<i style="left:587px;top:257px;width:37px;height:16px;background:#eeeeee"></i>
<i style="left:588px;top:272px;width:36px;height:1px;background:#fff"></i>
<i style="left:623px;top:257px;width:1px;height:16px;background:#fff"></i>
<i style="left:587px;top:257px;width:36px;height:1px;background:#b4b4b4"></i>
<i style="left:587px;top:257px;width:1px;height:16px;background:#b4b4b4"></i>
<b style="left:608.60px;top:260px;font:normal normal 10px/11px 'Liberation Sans';letter-spacing:0.524px;color:#000;transform:scaleX(1.1500);-webkit-text-stroke:0.12px;">10</b>
<i style="left:587px;top:273px;width:37px;height:16px;background:#eeeeee"></i>
<i style="left:588px;top:288px;width:36px;height:1px;background:#fff"></i>
<i style="left:623px;top:273px;width:1px;height:16px;background:#fff"></i>
<i style="left:587px;top:273px;width:36px;height:1px;background:#b4b4b4"></i>
<i style="left:587px;top:273px;width:1px;height:16px;background:#b4b4b4"></i>
<b style="left:615.53px;top:276px;font:normal normal 10px/11px 'Liberation Sans';letter-spacing:0.524px;color:#000;transform:scaleX(1.1500);-webkit-text-stroke:0.12px;">5</b>
<i style="left:587px;top:289px;width:37px;height:16px;background:#eeeeee"></i>
<i style="left:588px;top:304px;width:36px;height:1px;background:#fff"></i>
<i style="left:623px;top:289px;width:1px;height:16px;background:#fff"></i>
<i style="left:587px;top:289px;width:36px;height:1px;background:#b4b4b4"></i>
<i style="left:587px;top:289px;width:1px;height:16px;background:#b4b4b4"></i>
<i style="left:587px;top:305px;width:37px;height:16px;background:#eeeeee"></i>
<i style="left:588px;top:320px;width:36px;height:1px;background:#fff"></i>
<i style="left:623px;top:305px;width:1px;height:16px;background:#fff"></i>
<i style="left:587px;top:305px;width:36px;height:1px;background:#b4b4b4"></i>
<i style="left:587px;top:305px;width:1px;height:16px;background:#b4b4b4"></i>
<i style="left:587px;top:321px;width:37px;height:16px;background:#eeeeee"></i>
<i style="left:588px;top:336px;width:36px;height:1px;background:#fff"></i>
<i style="left:623px;top:321px;width:1px;height:16px;background:#fff"></i>
<i style="left:587px;top:321px;width:36px;height:1px;background:#b4b4b4"></i>
<i style="left:587px;top:321px;width:1px;height:16px;background:#b4b4b4"></i>
<i style="left:587px;top:337px;width:37px;height:16px;background:#eeeeee"></i>
<i style="left:588px;top:352px;width:36px;height:1px;background:#fff"></i>
<i style="left:623px;top:337px;width:1px;height:16px;background:#fff"></i>
<i style="left:587px;top:337px;width:36px;height:1px;background:#b4b4b4"></i>
<i style="left:587px;top:337px;width:1px;height:16px;background:#b4b4b4"></i>
<i style="left:629px;top:225px;width:57px;height:16px;background:#fff"></i>
<i style="left:630px;top:240px;width:56px;height:1px;background:#fff"></i>
<i style="left:685px;top:225px;width:1px;height:16px;background:#fff"></i>
<i style="left:629px;top:225px;width:56px;height:1px;background:#b4b4b4"></i>
<i style="left:629px;top:225px;width:1px;height:16px;background:#b4b4b4"></i>
<b style="left:656.10px;top:228px;font:normal normal 10px/11px 'Liberation Sans';letter-spacing:0.524px;color:#000;transform:scaleX(1.1500);-webkit-text-stroke:0.12px;">$849</b>
<i style="left:629px;top:241px;width:57px;height:16px;background:#fff"></i>
<i style="left:630px;top:256px;width:56px;height:1px;background:#fff"></i>
<i style="left:685px;top:241px;width:1px;height:16px;background:#fff"></i>
<i style="left:629px;top:241px;width:56px;height:1px;background:#b4b4b4"></i>
<i style="left:629px;top:241px;width:1px;height:16px;background:#b4b4b4"></i>
<b style="left:656.10px;top:244px;font:normal normal 10px/11px 'Liberation Sans';letter-spacing:0.524px;color:#000;transform:scaleX(1.1500);-webkit-text-stroke:0.12px;">1080</b>
<i style="left:629px;top:257px;width:57px;height:16px;background:#fff"></i>
<i style="left:630px;top:272px;width:56px;height:1px;background:#fff"></i>
<i style="left:685px;top:257px;width:1px;height:16px;background:#fff"></i>
<i style="left:629px;top:257px;width:56px;height:1px;background:#b4b4b4"></i>
<i style="left:629px;top:257px;width:1px;height:16px;background:#b4b4b4"></i>
<b style="left:656.10px;top:260px;font:normal normal 10px/11px 'Liberation Sans';letter-spacing:0.524px;color:#000;transform:scaleX(1.1500);-webkit-text-stroke:0.12px;">5243</b>
<i style="left:629px;top:273px;width:57px;height:16px;background:#fff"></i>
<i style="left:630px;top:288px;width:56px;height:1px;background:#fff"></i>
<i style="left:685px;top:273px;width:1px;height:16px;background:#fff"></i>
<i style="left:629px;top:273px;width:56px;height:1px;background:#b4b4b4"></i>
<i style="left:629px;top:273px;width:1px;height:16px;background:#b4b4b4"></i>
<b style="left:656.10px;top:276px;font:normal normal 10px/11px 'Liberation Sans';letter-spacing:0.524px;color:#000;transform:scaleX(1.1500);-webkit-text-stroke:0.12px;">5885</b>
<i style="left:629px;top:289px;width:57px;height:16px;background:#fff"></i>
<i style="left:630px;top:304px;width:56px;height:1px;background:#fff"></i>
<i style="left:685px;top:289px;width:1px;height:16px;background:#fff"></i>
<i style="left:629px;top:289px;width:56px;height:1px;background:#b4b4b4"></i>
<i style="left:629px;top:289px;width:1px;height:16px;background:#b4b4b4"></i>
<b style="left:656.10px;top:292px;font:normal normal 10px/11px 'Liberation Sans';letter-spacing:0.524px;color:#000;transform:scaleX(1.1500);-webkit-text-stroke:0.12px;">2546</b>
<i style="left:629px;top:305px;width:57px;height:16px;background:#fff"></i>
<i style="left:630px;top:320px;width:56px;height:1px;background:#fff"></i>
<i style="left:685px;top:305px;width:1px;height:16px;background:#fff"></i>
<i style="left:629px;top:305px;width:56px;height:1px;background:#b4b4b4"></i>
<i style="left:629px;top:305px;width:1px;height:16px;background:#b4b4b4"></i>
<b style="left:656.10px;top:308px;font:normal normal 10px/11px 'Liberation Sans';letter-spacing:0.524px;color:#000;transform:scaleX(1.1500);-webkit-text-stroke:0.12px;">2971</b>
<i style="left:629px;top:321px;width:57px;height:16px;background:#fff"></i>
<i style="left:630px;top:336px;width:56px;height:1px;background:#fff"></i>
<i style="left:685px;top:321px;width:1px;height:16px;background:#fff"></i>
<i style="left:629px;top:321px;width:56px;height:1px;background:#b4b4b4"></i>
<i style="left:629px;top:321px;width:1px;height:16px;background:#b4b4b4"></i>
<b style="left:656.10px;top:324px;font:normal normal 10px/11px 'Liberation Sans';letter-spacing:0.524px;color:#000;transform:scaleX(1.1500);-webkit-text-stroke:0.12px;">3819</b>
<i style="left:629px;top:337px;width:57px;height:16px;background:#fff"></i>
<i style="left:630px;top:352px;width:56px;height:1px;background:#fff"></i>
<i style="left:685px;top:337px;width:1px;height:16px;background:#fff"></i>
<i style="left:629px;top:337px;width:56px;height:1px;background:#b4b4b4"></i>
<i style="left:629px;top:337px;width:1px;height:16px;background:#b4b4b4"></i>
<b style="left:656.10px;top:340px;font:normal normal 10px/11px 'Liberation Sans';letter-spacing:0.524px;color:#000;transform:scaleX(1.1500);-webkit-text-stroke:0.12px;">2971</b>
<b style="left:430.92px;top:227px;font:normal normal 10px/11px 'Liberation Sans';letter-spacing:0.524px;color:#2a2a2a;transform:scaleX(1.1500);-webkit-text-stroke:0.12px;">3.897</b>
<b style="left:484.48px;top:227px;font:normal normal 10px/11px 'Liberation Sans';letter-spacing:0.524px;color:#2a2a2a;transform:scaleX(1.1500);-webkit-text-stroke:0.12px;">.144</b>
<b style="left:700.02px;top:227px;font:normal normal 10px/11px 'Liberation Sans';letter-spacing:0.524px;color:#2a2a2a;transform:scaleX(1.1500);-webkit-text-stroke:0.12px;">4.588</b>
<b style="left:754.78px;top:227px;font:normal normal 10px/11px 'Liberation Sans';letter-spacing:0.524px;color:#2a2a2a;transform:scaleX(1.1500);-webkit-text-stroke:0.12px;">.170</b>
<b style="left:430.92px;top:243px;font:normal normal 10px/11px 'Liberation Sans';letter-spacing:0.524px;color:#2a2a2a;transform:scaleX(1.1500);-webkit-text-stroke:0.12px;">3.004</b>
<b style="left:484.48px;top:243px;font:normal normal 10px/11px 'Liberation Sans';letter-spacing:0.524px;color:#2a2a2a;transform:scaleX(1.1500);-webkit-text-stroke:0.12px;">.192</b>
<b style="left:700.02px;top:243px;font:normal normal 10px/11px 'Liberation Sans';letter-spacing:0.524px;color:#2a2a2a;transform:scaleX(1.1500);-webkit-text-stroke:0.12px;">3.376</b>
<b style="left:754.78px;top:243px;font:normal normal 10px/11px 'Liberation Sans';letter-spacing:0.524px;color:#2a2a2a;transform:scaleX(1.1500);-webkit-text-stroke:0.12px;">.216</b>
<b style="left:434.38px;top:259px;font:normal normal 10px/11px 'Liberation Sans';letter-spacing:0.524px;color:#2a2a2a;transform:scaleX(1.1500);-webkit-text-stroke:0.12px;">.864</b>
<b style="left:484.48px;top:259px;font:normal normal 10px/11px 'Liberation Sans';letter-spacing:0.524px;color:#2a2a2a;transform:scaleX(1.1500);-webkit-text-stroke:0.12px;">.071</b>
<b style="left:700.02px;top:259px;font:normal normal 10px/11px 'Liberation Sans';letter-spacing:0.524px;color:#2a2a2a;transform:scaleX(1.1500);-webkit-text-stroke:0.12px;">1.279</b>
<b style="left:754.78px;top:259px;font:normal normal 10px/11px 'Liberation Sans';letter-spacing:0.524px;color:#2a2a2a;transform:scaleX(1.1500);-webkit-text-stroke:0.12px;">.071</b>
<b style="left:430.92px;top:275px;font:normal normal 10px/11px 'Liberation Sans';letter-spacing:0.524px;color:#2a2a2a;transform:scaleX(1.1500);-webkit-text-stroke:0.12px;">1.753</b>
<b style="left:484.48px;top:275px;font:normal normal 10px/11px 'Liberation Sans';letter-spacing:0.524px;color:#2a2a2a;transform:scaleX(1.1500);-webkit-text-stroke:0.12px;">.175</b>
<b style="left:700.02px;top:275px;font:normal normal 10px/11px 'Liberation Sans';letter-spacing:0.524px;color:#2a2a2a;transform:scaleX(1.1500);-webkit-text-stroke:0.12px;">2.354</b>
<b style="left:754.78px;top:275px;font:normal normal 10px/11px 'Liberation Sans';letter-spacing:0.524px;color:#2a2a2a;transform:scaleX(1.1500);-webkit-text-stroke:0.12px;">.235</b>
<b style="left:430.92px;top:291px;font:normal normal 10px/11px 'Liberation Sans';letter-spacing:0.524px;color:#2a2a2a;transform:scaleX(1.1500);-webkit-text-stroke:0.12px;">3.328</b>
<b style="left:484.48px;top:291px;font:normal normal 10px/11px 'Liberation Sans';letter-spacing:0.524px;color:#2a2a2a;transform:scaleX(1.1500);-webkit-text-stroke:0.12px;">.433</b>
<b style="left:700.02px;top:291px;font:normal normal 10px/11px 'Liberation Sans';letter-spacing:0.524px;color:#2a2a2a;transform:scaleX(1.1500);-webkit-text-stroke:0.12px;">3.917</b>
<b style="left:754.78px;top:291px;font:normal normal 10px/11px 'Liberation Sans';letter-spacing:0.524px;color:#2a2a2a;transform:scaleX(1.1500);-webkit-text-stroke:0.12px;">.509</b>
<b style="left:430.92px;top:307px;font:normal normal 10px/11px 'Liberation Sans';letter-spacing:0.524px;color:#2a2a2a;transform:scaleX(1.1500);-webkit-text-stroke:0.12px;">3.882</b>
<b style="left:484.48px;top:307px;font:normal normal 10px/11px 'Liberation Sans';letter-spacing:0.524px;color:#2a2a2a;transform:scaleX(1.1500);-webkit-text-stroke:0.12px;">.505</b>
<b style="left:700.02px;top:307px;font:normal normal 10px/11px 'Liberation Sans';letter-spacing:0.524px;color:#2a2a2a;transform:scaleX(1.1500);-webkit-text-stroke:0.12px;">4.467</b>
<b style="left:754.78px;top:307px;font:normal normal 10px/11px 'Liberation Sans';letter-spacing:0.524px;color:#2a2a2a;transform:scaleX(1.1500);-webkit-text-stroke:0.12px;">.594</b>
<b style="left:430.92px;top:323px;font:normal normal 10px/11px 'Liberation Sans';letter-spacing:0.524px;color:#2a2a2a;transform:scaleX(1.1500);-webkit-text-stroke:0.12px;">4.991</b>
<b style="left:484.48px;top:323px;font:normal normal 10px/11px 'Liberation Sans';letter-spacing:0.524px;color:#2a2a2a;transform:scaleX(1.1500);-webkit-text-stroke:0.12px;">.649</b>
<b style="left:700.02px;top:323px;font:normal normal 10px/11px 'Liberation Sans';letter-spacing:0.524px;color:#2a2a2a;transform:scaleX(1.1500);-webkit-text-stroke:0.12px;">5.876</b>
<b style="left:754.78px;top:323px;font:normal normal 10px/11px 'Liberation Sans';letter-spacing:0.524px;color:#2a2a2a;transform:scaleX(1.1500);-webkit-text-stroke:0.12px;">.764</b>
<b style="left:430.92px;top:339px;font:normal normal 10px/11px 'Liberation Sans';letter-spacing:0.524px;color:#2a2a2a;transform:scaleX(1.1500);-webkit-text-stroke:0.12px;">3.882</b>
<b style="left:484.48px;top:339px;font:normal normal 10px/11px 'Liberation Sans';letter-spacing:0.524px;color:#2a2a2a;transform:scaleX(1.1500);-webkit-text-stroke:0.12px;">.505</b>
<b style="left:700.02px;top:339px;font:normal normal 10px/11px 'Liberation Sans';letter-spacing:0.524px;color:#2a2a2a;transform:scaleX(1.1500);-webkit-text-stroke:0.12px;">4.570</b>
<b style="left:754.78px;top:339px;font:normal normal 10px/11px 'Liberation Sans';letter-spacing:0.524px;color:#2a2a2a;transform:scaleX(1.1500);-webkit-text-stroke:0.12px;">.594</b>
<b style="left:19.30px;top:362px;font:normal normal 10px/11px 'Liberation Sans';letter-spacing:0.392px;color:#000;transform:scaleX(1.1500);-webkit-text-stroke:0.12px;">Use within multiple</b>
<b style="left:19.30px;top:374px;font:normal normal 10px/11px 'Liberation Sans';letter-spacing:0.475px;color:#000;transform:scaleX(1.1500);-webkit-text-stroke:0.12px;">magazines</b>
<b style="left:237.00px;top:376px;font:normal normal 10px/11px 'Liberation Sans';letter-spacing:0.541px;color:#000;transform:scaleX(1.1500);-webkit-text-stroke:0.12px;">1/4</b>
<b style="left:237.00px;top:392px;font:normal normal 10px/11px 'Liberation Sans';letter-spacing:0.541px;color:#000;transform:scaleX(1.1500);-webkit-text-stroke:0.12px;">1/2</b>
<b style="left:237.00px;top:408px;font:normal normal 10px/11px 'Liberation Sans';letter-spacing:0.541px;color:#000;transform:scaleX(1.1500);-webkit-text-stroke:0.12px;">3/4</b>
<b style="left:238.00px;top:424px;font:normal normal 10px/11px 'Liberation Sans';letter-spacing:0.446px;color:#000;transform:scaleX(1.1500);-webkit-text-stroke:0.12px;">full</b>
<b style="left:216.60px;top:440px;font:normal normal 10px/11px 'Liberation Sans';letter-spacing:0.539px;color:#000;transform:scaleX(1.1500);-webkit-text-stroke:0.12px;">double</b>
<b style="left:222.00px;top:456px;font:normal normal 10px/11px 'Liberation Sans';letter-spacing:0.375px;color:#000;transform:scaleX(1.1500);-webkit-text-stroke:0.12px;">inside</b>
<b style="left:229.80px;top:472px;font:normal normal 10px/11px 'Liberation Sans';letter-spacing:-0.011px;color:#000;transform:scaleX(1.1500);-webkit-text-stroke:0.12px;">back</b>
<b style="left:209.70px;top:488px;font:normal normal 10px/11px 'Liberation Sans';letter-spacing:0.439px;color:#000;transform:scaleX(1.1500);-webkit-text-stroke:0.12px;">gatefold</b>
<b style="left:269.00px;top:362px;font:normal normal 9.5px/11px 'Liberation Sans';letter-spacing:-0.138px;color:#2a2a2a;transform:scaleX(1.1500);-webkit-text-stroke:0.12px;"># mags</b>
<b style="left:316.00px;top:362px;font:normal normal 9.5px/11px 'Liberation Sans';letter-spacing:0.073px;color:#2a2a2a;transform:scaleX(1.1500);-webkit-text-stroke:0.12px;"># years</b>
<b style="left:369.20px;top:362px;font:normal normal 9.5px/11px 'Liberation Sans';letter-spacing:0.213px;color:#2a2a2a;transform:scaleX(1.1500);-webkit-text-stroke:0.12px;">total cost of multiple uses</b>
<b style="left:530.80px;top:362px;font:normal normal 9.5px/11px 'Liberation Sans';letter-spacing:-0.121px;color:#2a2a2a;transform:scaleX(1.1500);-webkit-text-stroke:0.12px;"># mags</b>
<b style="left:577.50px;top:362px;font:normal normal 9.5px/11px 'Liberation Sans';letter-spacing:0.088px;color:#2a2a2a;transform:scaleX(1.1500);-webkit-text-stroke:0.12px;"># years</b>
<b style="left:629.30px;top:362px;font:normal normal 9.5px/11px 'Liberation Sans';letter-spacing:0.213px;color:#2a2a2a;transform:scaleX(1.1500);-webkit-text-stroke:0.12px;">total cost of multiple uses</b>
<i style="left:265px;top:374px;width:38px;height:16px;background:#eeeeee"></i>
<i style="left:266px;top:389px;width:37px;height:1px;background:#fff"></i>
<i style="left:302px;top:374px;width:1px;height:16px;background:#fff"></i>
<i style="left:265px;top:374px;width:37px;height:1px;background:#b4b4b4"></i>
<i style="left:265px;top:374px;width:1px;height:16px;background:#b4b4b4"></i>
<i style="left:527px;top:374px;width:38px;height:16px;background:#eeeeee"></i>
<i style="left:528px;top:389px;width:37px;height:1px;background:#fff"></i>
<i style="left:564px;top:374px;width:1px;height:16px;background:#fff"></i>
<i style="left:527px;top:374px;width:37px;height:1px;background:#b4b4b4"></i>
<i style="left:527px;top:374px;width:1px;height:16px;background:#b4b4b4"></i>
<i style="left:315px;top:374px;width:37px;height:16px;background:#eeeeee"></i>
<i style="left:316px;top:389px;width:36px;height:1px;background:#fff"></i>
<i style="left:351px;top:374px;width:1px;height:16px;background:#fff"></i>
<i style="left:315px;top:374px;width:36px;height:1px;background:#b4b4b4"></i>
<i style="left:315px;top:374px;width:1px;height:16px;background:#b4b4b4"></i>
<i style="left:315px;top:390px;width:37px;height:16px;background:#eeeeee"></i>
<i style="left:316px;top:405px;width:36px;height:1px;background:#fff"></i>
<i style="left:351px;top:390px;width:1px;height:16px;background:#fff"></i>
<i style="left:315px;top:390px;width:36px;height:1px;background:#b4b4b4"></i>
<i style="left:315px;top:390px;width:1px;height:16px;background:#b4b4b4"></i>
<i style="left:315px;top:406px;width:37px;height:16px;background:#eeeeee"></i>
<i style="left:316px;top:421px;width:36px;height:1px;background:#fff"></i>
<i style="left:351px;top:406px;width:1px;height:16px;background:#fff"></i>
<i style="left:315px;top:406px;width:36px;height:1px;background:#b4b4b4"></i>
<i style="left:315px;top:406px;width:1px;height:16px;background:#b4b4b4"></i>
<i style="left:315px;top:422px;width:37px;height:16px;background:#eeeeee"></i>
<i style="left:316px;top:437px;width:36px;height:1px;background:#fff"></i>
<i style="left:351px;top:422px;width:1px;height:16px;background:#fff"></i>
<i style="left:315px;top:422px;width:36px;height:1px;background:#b4b4b4"></i>
<i style="left:315px;top:422px;width:1px;height:16px;background:#b4b4b4"></i>
<i style="left:315px;top:438px;width:37px;height:16px;background:#eeeeee"></i>
<i style="left:316px;top:453px;width:36px;height:1px;background:#fff"></i>
<i style="left:351px;top:438px;width:1px;height:16px;background:#fff"></i>
<i style="left:315px;top:438px;width:36px;height:1px;background:#b4b4b4"></i>
<i style="left:315px;top:438px;width:1px;height:16px;background:#b4b4b4"></i>
<i style="left:315px;top:454px;width:37px;height:16px;background:#eeeeee"></i>
<i style="left:316px;top:469px;width:36px;height:1px;background:#fff"></i>
<i style="left:351px;top:454px;width:1px;height:16px;background:#fff"></i>
<i style="left:315px;top:454px;width:36px;height:1px;background:#b4b4b4"></i>
<i style="left:315px;top:454px;width:1px;height:16px;background:#b4b4b4"></i>
<i style="left:315px;top:470px;width:37px;height:16px;background:#eeeeee"></i>
<i style="left:316px;top:485px;width:36px;height:1px;background:#fff"></i>
<i style="left:351px;top:470px;width:1px;height:16px;background:#fff"></i>
<i style="left:315px;top:470px;width:36px;height:1px;background:#b4b4b4"></i>
<i style="left:315px;top:470px;width:1px;height:16px;background:#b4b4b4"></i>
<i style="left:315px;top:486px;width:37px;height:16px;background:#eeeeee"></i>
<i style="left:316px;top:501px;width:36px;height:1px;background:#fff"></i>
<i style="left:351px;top:486px;width:1px;height:16px;background:#fff"></i>
<i style="left:315px;top:486px;width:36px;height:1px;background:#b4b4b4"></i>
<i style="left:315px;top:486px;width:1px;height:16px;background:#b4b4b4"></i>
<i style="left:577px;top:374px;width:37px;height:16px;background:#eeeeee"></i>
<i style="left:578px;top:389px;width:36px;height:1px;background:#fff"></i>
<i style="left:613px;top:374px;width:1px;height:16px;background:#fff"></i>
<i style="left:577px;top:374px;width:36px;height:1px;background:#b4b4b4"></i>
<i style="left:577px;top:374px;width:1px;height:16px;background:#b4b4b4"></i>
<i style="left:577px;top:390px;width:37px;height:16px;background:#eeeeee"></i>
<i style="left:578px;top:405px;width:36px;height:1px;background:#fff"></i>
<i style="left:613px;top:390px;width:1px;height:16px;background:#fff"></i>
<i style="left:577px;top:390px;width:36px;height:1px;background:#b4b4b4"></i>
<i style="left:577px;top:390px;width:1px;height:16px;background:#b4b4b4"></i>
<i style="left:577px;top:406px;width:37px;height:16px;background:#eeeeee"></i>
<i style="left:578px;top:421px;width:36px;height:1px;background:#fff"></i>
<i style="left:613px;top:406px;width:1px;height:16px;background:#fff"></i>
<i style="left:577px;top:406px;width:36px;height:1px;background:#b4b4b4"></i>
<i style="left:577px;top:406px;width:1px;height:16px;background:#b4b4b4"></i>
<i style="left:577px;top:422px;width:37px;height:16px;background:#eeeeee"></i>
<i style="left:578px;top:437px;width:36px;height:1px;background:#fff"></i>
<i style="left:613px;top:422px;width:1px;height:16px;background:#fff"></i>
<i style="left:577px;top:422px;width:36px;height:1px;background:#b4b4b4"></i>
<i style="left:577px;top:422px;width:1px;height:16px;background:#b4b4b4"></i>
<i style="left:577px;top:438px;width:37px;height:16px;background:#eeeeee"></i>
<i style="left:578px;top:453px;width:36px;height:1px;background:#fff"></i>
<i style="left:613px;top:438px;width:1px;height:16px;background:#fff"></i>
<i style="left:577px;top:438px;width:36px;height:1px;background:#b4b4b4"></i>
<i style="left:577px;top:438px;width:1px;height:16px;background:#b4b4b4"></i>
<i style="left:577px;top:454px;width:37px;height:16px;background:#eeeeee"></i>
<i style="left:578px;top:469px;width:36px;height:1px;background:#fff"></i>
<i style="left:613px;top:454px;width:1px;height:16px;background:#fff"></i>
<i style="left:577px;top:454px;width:36px;height:1px;background:#b4b4b4"></i>
<i style="left:577px;top:454px;width:1px;height:16px;background:#b4b4b4"></i>
<i style="left:577px;top:470px;width:37px;height:16px;background:#eeeeee"></i>
<i style="left:578px;top:485px;width:36px;height:1px;background:#fff"></i>
<i style="left:613px;top:470px;width:1px;height:16px;background:#fff"></i>
<i style="left:577px;top:470px;width:36px;height:1px;background:#b4b4b4"></i>
<i style="left:577px;top:470px;width:1px;height:16px;background:#b4b4b4"></i>
<i style="left:577px;top:486px;width:37px;height:16px;background:#eeeeee"></i>
<i style="left:578px;top:501px;width:36px;height:1px;background:#fff"></i>
<i style="left:613px;top:486px;width:1px;height:16px;background:#fff"></i>
<i style="left:577px;top:486px;width:36px;height:1px;background:#b4b4b4"></i>
<i style="left:577px;top:486px;width:1px;height:16px;background:#b4b4b4"></i>
<i style="left:364px;top:374px;width:70px;height:16px;background:#fff"></i>
<i style="left:365px;top:389px;width:69px;height:1px;background:#fff"></i>
<i style="left:433px;top:374px;width:1px;height:16px;background:#fff"></i>
<i style="left:364px;top:374px;width:69px;height:1px;background:#b4b4b4"></i>
<i style="left:364px;top:374px;width:1px;height:16px;background:#b4b4b4"></i>
<b style="left:403.60px;top:377px;font:normal normal 10px/11px 'Liberation Sans';letter-spacing:0.524px;color:#000;transform:scaleX(1.1500);-webkit-text-stroke:0.12px;">$721</b>
<i style="left:364px;top:390px;width:70px;height:16px;background:#fff"></i>
<i style="left:365px;top:405px;width:69px;height:1px;background:#fff"></i>
<i style="left:433px;top:390px;width:1px;height:16px;background:#fff"></i>
<i style="left:364px;top:390px;width:69px;height:1px;background:#b4b4b4"></i>
<i style="left:364px;top:390px;width:1px;height:16px;background:#b4b4b4"></i>
<b style="left:410.53px;top:393px;font:normal normal 10px/11px 'Liberation Sans';letter-spacing:0.524px;color:#000;transform:scaleX(1.1500);-webkit-text-stroke:0.12px;">961</b>
<i style="left:364px;top:406px;width:70px;height:16px;background:#fff"></i>
<i style="left:365px;top:421px;width:69px;height:1px;background:#fff"></i>
<i style="left:433px;top:406px;width:1px;height:16px;background:#fff"></i>
<i style="left:364px;top:406px;width:69px;height:1px;background:#b4b4b4"></i>
<i style="left:364px;top:406px;width:1px;height:16px;background:#b4b4b4"></i>
<b style="left:403.60px;top:409px;font:normal normal 10px/11px 'Liberation Sans';letter-spacing:0.524px;color:#000;transform:scaleX(1.1500);-webkit-text-stroke:0.12px;">3542</b>
<i style="left:364px;top:422px;width:70px;height:16px;background:#fff"></i>
<i style="left:365px;top:437px;width:69px;height:1px;background:#fff"></i>
<i style="left:433px;top:422px;width:1px;height:16px;background:#fff"></i>
<i style="left:364px;top:422px;width:69px;height:1px;background:#b4b4b4"></i>
<i style="left:364px;top:422px;width:1px;height:16px;background:#b4b4b4"></i>
<b style="left:403.60px;top:425px;font:normal normal 10px/11px 'Liberation Sans';letter-spacing:0.524px;color:#000;transform:scaleX(1.1500);-webkit-text-stroke:0.12px;">4382</b>
<i style="left:364px;top:438px;width:70px;height:16px;background:#fff"></i>
<i style="left:365px;top:453px;width:69px;height:1px;background:#fff"></i>
<i style="left:433px;top:438px;width:1px;height:16px;background:#fff"></i>
<i style="left:364px;top:438px;width:69px;height:1px;background:#b4b4b4"></i>
<i style="left:364px;top:438px;width:1px;height:16px;background:#b4b4b4"></i>
<b style="left:403.60px;top:441px;font:normal normal 10px/11px 'Liberation Sans';letter-spacing:0.524px;color:#000;transform:scaleX(1.1500);-webkit-text-stroke:0.12px;">2163</b>
<i style="left:364px;top:454px;width:70px;height:16px;background:#fff"></i>
<i style="left:365px;top:469px;width:69px;height:1px;background:#fff"></i>
<i style="left:433px;top:454px;width:1px;height:16px;background:#fff"></i>
<i style="left:364px;top:454px;width:69px;height:1px;background:#b4b4b4"></i>
<i style="left:364px;top:454px;width:1px;height:16px;background:#b4b4b4"></i>
<b style="left:403.60px;top:457px;font:normal normal 10px/11px 'Liberation Sans';letter-spacing:0.524px;color:#000;transform:scaleX(1.1500);-webkit-text-stroke:0.12px;">2523</b>
<i style="left:364px;top:470px;width:70px;height:16px;background:#fff"></i>
<i style="left:365px;top:485px;width:69px;height:1px;background:#fff"></i>
<i style="left:433px;top:470px;width:1px;height:16px;background:#fff"></i>
<i style="left:364px;top:470px;width:69px;height:1px;background:#b4b4b4"></i>
<i style="left:364px;top:470px;width:1px;height:16px;background:#b4b4b4"></i>
<b style="left:403.60px;top:473px;font:normal normal 10px/11px 'Liberation Sans';letter-spacing:0.524px;color:#000;transform:scaleX(1.1500);-webkit-text-stroke:0.12px;">3244</b>
<i style="left:364px;top:486px;width:70px;height:16px;background:#fff"></i>
<i style="left:365px;top:501px;width:69px;height:1px;background:#fff"></i>
<i style="left:433px;top:486px;width:1px;height:16px;background:#fff"></i>
<i style="left:364px;top:486px;width:69px;height:1px;background:#b4b4b4"></i>
<i style="left:364px;top:486px;width:1px;height:16px;background:#b4b4b4"></i>
<b style="left:403.60px;top:489px;font:normal normal 10px/11px 'Liberation Sans';letter-spacing:0.524px;color:#000;transform:scaleX(1.1500);-webkit-text-stroke:0.12px;">2523</b>
<i style="left:626px;top:374px;width:67px;height:16px;background:#fff"></i>
<i style="left:627px;top:389px;width:66px;height:1px;background:#fff"></i>
<i style="left:692px;top:374px;width:1px;height:16px;background:#fff"></i>
<i style="left:626px;top:374px;width:66px;height:1px;background:#b4b4b4"></i>
<i style="left:626px;top:374px;width:1px;height:16px;background:#b4b4b4"></i>
<b style="left:663.60px;top:377px;font:normal normal 10px/11px 'Liberation Sans';letter-spacing:0.524px;color:#000;transform:scaleX(1.1500);-webkit-text-stroke:0.12px;">$849</b>
<i style="left:626px;top:390px;width:67px;height:16px;background:#fff"></i>
<i style="left:627px;top:405px;width:66px;height:1px;background:#fff"></i>
<i style="left:692px;top:390px;width:1px;height:16px;background:#fff"></i>
<i style="left:626px;top:390px;width:66px;height:1px;background:#b4b4b4"></i>
<i style="left:626px;top:390px;width:1px;height:16px;background:#b4b4b4"></i>
<b style="left:663.60px;top:393px;font:normal normal 10px/11px 'Liberation Sans';letter-spacing:0.524px;color:#000;transform:scaleX(1.1500);-webkit-text-stroke:0.12px;">1080</b>
<i style="left:626px;top:406px;width:67px;height:16px;background:#fff"></i>
<i style="left:627px;top:421px;width:66px;height:1px;background:#fff"></i>
<i style="left:692px;top:406px;width:1px;height:16px;background:#fff"></i>
<i style="left:626px;top:406px;width:66px;height:1px;background:#b4b4b4"></i>
<i style="left:626px;top:406px;width:1px;height:16px;background:#b4b4b4"></i>
<b style="left:663.60px;top:409px;font:normal normal 10px/11px 'Liberation Sans';letter-spacing:0.524px;color:#000;transform:scaleX(1.1500);-webkit-text-stroke:0.12px;">5243</b>
<i style="left:626px;top:422px;width:67px;height:16px;background:#fff"></i>
<i style="left:627px;top:437px;width:66px;height:1px;background:#fff"></i>
<i style="left:692px;top:422px;width:1px;height:16px;background:#fff"></i>
<i style="left:626px;top:422px;width:66px;height:1px;background:#b4b4b4"></i>
<i style="left:626px;top:422px;width:1px;height:16px;background:#b4b4b4"></i>
<b style="left:663.60px;top:425px;font:normal normal 10px/11px 'Liberation Sans';letter-spacing:0.524px;color:#000;transform:scaleX(1.1500);-webkit-text-stroke:0.12px;">5885</b>
<i style="left:626px;top:438px;width:67px;height:16px;background:#fff"></i>
<i style="left:627px;top:453px;width:66px;height:1px;background:#fff"></i>
<i style="left:692px;top:438px;width:1px;height:16px;background:#fff"></i>
<i style="left:626px;top:438px;width:66px;height:1px;background:#b4b4b4"></i>
<i style="left:626px;top:438px;width:1px;height:16px;background:#b4b4b4"></i>
<b style="left:663.60px;top:441px;font:normal normal 10px/11px 'Liberation Sans';letter-spacing:0.524px;color:#000;transform:scaleX(1.1500);-webkit-text-stroke:0.12px;">2546</b>
<i style="left:626px;top:454px;width:67px;height:16px;background:#fff"></i>
<i style="left:627px;top:469px;width:66px;height:1px;background:#fff"></i>
<i style="left:692px;top:454px;width:1px;height:16px;background:#fff"></i>
<i style="left:626px;top:454px;width:66px;height:1px;background:#b4b4b4"></i>
<i style="left:626px;top:454px;width:1px;height:16px;background:#b4b4b4"></i>
<b style="left:663.60px;top:457px;font:normal normal 10px/11px 'Liberation Sans';letter-spacing:0.524px;color:#000;transform:scaleX(1.1500);-webkit-text-stroke:0.12px;">2971</b>
<i style="left:626px;top:470px;width:67px;height:16px;background:#fff"></i>
<i style="left:627px;top:485px;width:66px;height:1px;background:#fff"></i>
<i style="left:692px;top:470px;width:1px;height:16px;background:#fff"></i>
<i style="left:626px;top:470px;width:66px;height:1px;background:#b4b4b4"></i>
<i style="left:626px;top:470px;width:1px;height:16px;background:#b4b4b4"></i>
<b style="left:663.60px;top:473px;font:normal normal 10px/11px 'Liberation Sans';letter-spacing:0.524px;color:#000;transform:scaleX(1.1500);-webkit-text-stroke:0.12px;">3819</b>
<i style="left:626px;top:486px;width:67px;height:16px;background:#fff"></i>
<i style="left:627px;top:501px;width:66px;height:1px;background:#fff"></i>
<i style="left:692px;top:486px;width:1px;height:16px;background:#fff"></i>
<i style="left:626px;top:486px;width:66px;height:1px;background:#b4b4b4"></i>
<i style="left:626px;top:486px;width:1px;height:16px;background:#b4b4b4"></i>
<b style="left:663.60px;top:489px;font:normal normal 10px/11px 'Liberation Sans';letter-spacing:0.524px;color:#000;transform:scaleX(1.1500);-webkit-text-stroke:0.12px;">2971</b>
<b style="left:314.00px;top:519px;font:normal normal 9.5px/11px 'Liberation Sans';letter-spacing:0.190px;color:#2a2a2a;transform:scaleX(1.1500);-webkit-text-stroke:0.12px;">subtotal:</b>
<i style="left:364px;top:515px;width:79px;height:16px;background:#fff"></i>
<i style="left:365px;top:530px;width:78px;height:1px;background:#fff"></i>
<i style="left:442px;top:515px;width:1px;height:16px;background:#fff"></i>
<i style="left:364px;top:515px;width:78px;height:1px;background:#b4b4b4"></i>
<i style="left:364px;top:515px;width:1px;height:16px;background:#b4b4b4"></i>
<b style="left:576.00px;top:519px;font:normal normal 9.5px/11px 'Liberation Sans';letter-spacing:0.190px;color:#2a2a2a;transform:scaleX(1.1500);-webkit-text-stroke:0.12px;">subtotal:</b>
<i style="left:626px;top:515px;width:79px;height:16px;background:#fff"></i>
<i style="left:627px;top:530px;width:78px;height:1px;background:#fff"></i>
<i style="left:704px;top:515px;width:1px;height:16px;background:#fff"></i>
<i style="left:626px;top:515px;width:78px;height:1px;background:#b4b4b4"></i>
<i style="left:626px;top:515px;width:1px;height:16px;background:#b4b4b4"></i>
<b style="left:268.70px;top:553px;font:normal normal 9.5px/11px 'Liberation Sans';letter-spacing:0.093px;color:#2a2a2a;transform:scaleX(1.1500);-webkit-text-stroke:0.12px;">estimated media buy</b>
<b style="left:268.70px;top:577px;font:normal normal 9.5px/11px 'Liberation Sans';letter-spacing:0.043px;color:#2a2a2a;transform:scaleX(1.1500);-webkit-text-stroke:0.12px;">percent of ad rate based</b>
<b style="left:268.70px;top:588px;font:normal normal 9.5px/11px 'Liberation Sans';letter-spacing:-0.034px;color:#2a2a2a;transform:scaleX(1.1500);-webkit-text-stroke:0.12px;">upon full page use</b>
<b style="left:429.18px;top:577px;font:normal normal 9.5px/11px 'Liberation Sans';letter-spacing:0.000px;color:#2a2a2a;-webkit-text-stroke:0.12px;">?</b>
<b style="left:530.20px;top:553px;font:normal normal 9.5px/11px 'Liberation Sans';letter-spacing:0.093px;color:#2a2a2a;transform:scaleX(1.1500);-webkit-text-stroke:0.12px;">estimated media buy</b>
<b style="left:530.20px;top:577px;font:normal normal 9.5px/11px 'Liberation Sans';letter-spacing:0.043px;color:#2a2a2a;transform:scaleX(1.1500);-webkit-text-stroke:0.12px;">percent of ad rate based</b>
<b style="left:530.20px;top:588px;font:normal normal 9.5px/11px 'Liberation Sans';letter-spacing:-0.034px;color:#2a2a2a;transform:scaleX(1.1500);-webkit-text-stroke:0.12px;">upon full page use</b>
<b style="left:690.67px;top:577px;font:normal normal 9.5px/11px 'Liberation Sans';letter-spacing:0.000px;color:#2a2a2a;-webkit-text-stroke:0.12px;">?</b>
<b style="left:18.70px;top:499px;font:normal normal 13px/15px 'Liberation Sans';letter-spacing:0.000px;color:#000;transform:scaleX(0.7565);-webkit-text-stroke:0.12px;">Advanced Use Only</b>
<b style="left:17.00px;top:519px;font:normal normal 10px/11px 'Liberation Sans';letter-spacing:0.343px;color:#000;transform:scaleX(1.1500);-webkit-text-stroke:0.12px;">Trans Multiple</b>
<b style="left:17.00px;top:534px;font:normal normal 10px/11px 'Liberation Sans';letter-spacing:0.350px;color:#000;transform:scaleX(1.1500);-webkit-text-stroke:0.12px;">Standard Multiple</b>
<i style="left:143px;top:515px;width:33px;height:16px;background:#ffffe8"></i>
<i style="left:144px;top:530px;width:32px;height:1px;background:#fff"></i>
<i style="left:175px;top:515px;width:1px;height:16px;background:#fff"></i>
<i style="left:143px;top:515px;width:32px;height:1px;background:#b9b9a6"></i>
<i style="left:143px;top:515px;width:1px;height:16px;background:#b9b9a6"></i>
<b style="left:167.53px;top:518px;font:normal normal 10px/11px 'Liberation Sans';letter-spacing:0.524px;color:#000;transform:scaleX(1.1500);-webkit-text-stroke:0.12px;">3</b>
<i style="left:143px;top:531px;width:33px;height:16px;background:#ffffe8"></i>
<i style="left:144px;top:546px;width:32px;height:1px;background:#fff"></i>
<i style="left:175px;top:531px;width:1px;height:16px;background:#fff"></i>
<i style="left:143px;top:531px;width:32px;height:1px;background:#b9b9a6"></i>
<i style="left:143px;top:531px;width:1px;height:16px;background:#b9b9a6"></i>
<b style="left:167.53px;top:534px;font:normal normal 10px/11px 'Liberation Sans';letter-spacing:0.524px;color:#000;transform:scaleX(1.1500);-webkit-text-stroke:0.12px;">4</b>
<b style="left:17.60px;top:610px;font:normal bold 13px/15px 'Liberation Sans';letter-spacing:0.319px;color:#000;-webkit-text-stroke:0.35px;">Web Banner Ads</b>
<b style="left:348.30px;top:612px;font:normal normal 10px/11px 'Liberation Sans';letter-spacing:0.406px;color:#000;transform:scaleX(1.1500);-webkit-text-stroke:0.12px;">Transitional Rate</b>
<b style="left:619.70px;top:612px;font:normal normal 10px/11px 'Liberation Sans';letter-spacing:0.460px;color:#000;transform:scaleX(1.1500);-webkit-text-stroke:0.12px;">Target Rate</b>
<b style="left:19.50px;top:647px;font:normal normal 10px/11px 'Liberation Sans';letter-spacing:0.339px;color:#000;transform:scaleX(1.1500);-webkit-text-stroke:0.12px;">Months of license</b>
<b style="left:19.50px;top:664px;font:normal normal 10px/11px 'Liberation Sans';letter-spacing:-0.212px;color:#000;transform:scaleX(1.1500);-webkit-text-stroke:0.12px;">Rate Modifier</b>
<i style="left:146px;top:644px;width:31px;height:16px;background:#ffffe8"></i>
<i style="left:147px;top:659px;width:30px;height:1px;background:#fff"></i>
<i style="left:176px;top:644px;width:1px;height:16px;background:#fff"></i>
<i style="left:146px;top:644px;width:30px;height:1px;background:#b9b9a6"></i>
<i style="left:146px;top:644px;width:1px;height:16px;background:#b9b9a6"></i>
<i style="left:146px;top:661px;width:31px;height:16px;background:#ffffe8"></i>
<i style="left:147px;top:676px;width:30px;height:1px;background:#fff"></i>
<i style="left:176px;top:661px;width:1px;height:16px;background:#fff"></i>
<i style="left:146px;top:661px;width:30px;height:1px;background:#b9b9a6"></i>
<i style="left:146px;top:661px;width:1px;height:16px;background:#b9b9a6"></i>
<b style="left:188.70px;top:647px;font:normal normal 10px/11px 'Liberation Sans';letter-spacing:-0.023px;color:#000;transform:scaleX(1.0800);-webkit-text-stroke:0.12px;">Standard</b>
<b style="left:229.60px;top:657px;font:normal normal 9.5px/11px 'Liberation Sans';letter-spacing:0.000px;color:#000;transform:scaleX(0.9527);-webkit-text-stroke:0.12px;">(minor)</b>
<b style="left:188.70px;top:672px;font:normal normal 10px/11px 'Liberation Sans';letter-spacing:-0.023px;color:#000;transform:scaleX(1.0800);-webkit-text-stroke:0.12px;">Standard</b>
<b style="left:229.60px;top:682px;font:normal normal 9.5px/11px 'Liberation Sans';letter-spacing:0.000px;color:#000;transform:scaleX(0.9527);-webkit-text-stroke:0.12px;">(major)</b>
<b style="left:269.00px;top:630px;font:normal normal 9.5px/11px 'Liberation Sans';letter-spacing:-0.103px;color:#2a2a2a;transform:scaleX(1.1500);-webkit-text-stroke:0.12px;">one time</b>
<b style="left:325.50px;top:630px;font:normal normal 9.5px/11px 'Liberation Sans';letter-spacing:0.188px;color:#2a2a2a;transform:scaleX(1.1500);-webkit-text-stroke:0.12px;">inserts</b>
<b style="left:368.00px;top:630px;font:normal normal 9.5px/11px 'Liberation Sans';letter-spacing:0.208px;color:#2a2a2a;transform:scaleX(1.1500);-webkit-text-stroke:0.12px;">cost</b>
<b style="left:530.00px;top:630px;font:normal normal 9.5px/11px 'Liberation Sans';letter-spacing:-0.103px;color:#2a2a2a;transform:scaleX(1.1500);-webkit-text-stroke:0.12px;">one time</b>
<b style="left:587.70px;top:630px;font:normal normal 9.5px/11px 'Liberation Sans';letter-spacing:0.159px;color:#2a2a2a;transform:scaleX(1.1500);-webkit-text-stroke:0.12px;">inserts</b>
<b style="left:633.00px;top:630px;font:normal normal 9.5px/11px 'Liberation Sans';letter-spacing:0.237px;color:#2a2a2a;transform:scaleX(1.1500);-webkit-text-stroke:0.12px;">cost</b>
<i style="left:265px;top:644px;width:57px;height:16px;background:#fff"></i>
<i style="left:266px;top:659px;width:56px;height:1px;background:#fff"></i>
<i style="left:321px;top:644px;width:1px;height:16px;background:#fff"></i>
<i style="left:265px;top:644px;width:56px;height:1px;background:#b4b4b4"></i>
<i style="left:265px;top:644px;width:1px;height:16px;background:#b4b4b4"></i>
<i style="left:325px;top:644px;width:37px;height:16px;background:#eeeeee"></i>
<i style="left:326px;top:659px;width:36px;height:1px;background:#fff"></i>
<i style="left:361px;top:644px;width:1px;height:16px;background:#fff"></i>
<i style="left:325px;top:644px;width:36px;height:1px;background:#b4b4b4"></i>
<i style="left:325px;top:644px;width:1px;height:16px;background:#b4b4b4"></i>
<i style="left:365px;top:644px;width:57px;height:16px;background:#fff"></i>
<i style="left:366px;top:659px;width:56px;height:1px;background:#fff"></i>
<i style="left:421px;top:644px;width:1px;height:16px;background:#fff"></i>
<i style="left:365px;top:644px;width:56px;height:1px;background:#b4b4b4"></i>
<i style="left:365px;top:644px;width:1px;height:16px;background:#b4b4b4"></i>
<i style="left:527px;top:644px;width:57px;height:16px;background:#fff"></i>
<i style="left:528px;top:659px;width:56px;height:1px;background:#fff"></i>
<i style="left:583px;top:644px;width:1px;height:16px;background:#fff"></i>
<i style="left:527px;top:644px;width:56px;height:1px;background:#b4b4b4"></i>
<i style="left:527px;top:644px;width:1px;height:16px;background:#b4b4b4"></i>
<i style="left:587px;top:644px;width:37px;height:16px;background:#eeeeee"></i>
<i style="left:588px;top:659px;width:36px;height:1px;background:#fff"></i>
<i style="left:623px;top:644px;width:1px;height:16px;background:#fff"></i>
<i style="left:587px;top:644px;width:36px;height:1px;background:#b4b4b4"></i>
<i style="left:587px;top:644px;width:1px;height:16px;background:#b4b4b4"></i>
<i style="left:627px;top:644px;width:57px;height:16px;background:#fff"></i>
<i style="left:628px;top:659px;width:56px;height:1px;background:#fff"></i>
<i style="left:683px;top:644px;width:1px;height:16px;background:#fff"></i>
<i style="left:627px;top:644px;width:56px;height:1px;background:#b4b4b4"></i>
<i style="left:627px;top:644px;width:1px;height:16px;background:#b4b4b4"></i>
<i style="left:265px;top:670px;width:57px;height:16px;background:#fff"></i>
<i style="left:266px;top:685px;width:56px;height:1px;background:#fff"></i>
<i style="left:321px;top:670px;width:1px;height:16px;background:#fff"></i>
<i style="left:265px;top:670px;width:56px;height:1px;background:#b4b4b4"></i>
<i style="left:265px;top:670px;width:1px;height:16px;background:#b4b4b4"></i>
<i style="left:325px;top:670px;width:37px;height:16px;background:#eeeeee"></i>
<i style="left:326px;top:685px;width:36px;height:1px;background:#fff"></i>
<i style="left:361px;top:670px;width:1px;height:16px;background:#fff"></i>
<i style="left:325px;top:670px;width:36px;height:1px;background:#b4b4b4"></i>
<i style="left:325px;top:670px;width:1px;height:16px;background:#b4b4b4"></i>
<i style="left:365px;top:670px;width:57px;height:16px;background:#fff"></i>
<i style="left:366px;top:685px;width:56px;height:1px;background:#fff"></i>
<i style="left:421px;top:670px;width:1px;height:16px;background:#fff"></i>
<i style="left:365px;top:670px;width:56px;height:1px;background:#b4b4b4"></i>
<i style="left:365px;top:670px;width:1px;height:16px;background:#b4b4b4"></i>
<i style="left:527px;top:670px;width:57px;height:16px;background:#fff"></i>
<i style="left:528px;top:685px;width:56px;height:1px;background:#fff"></i>
<i style="left:583px;top:670px;width:1px;height:16px;background:#fff"></i>
<i style="left:527px;top:670px;width:56px;height:1px;background:#b4b4b4"></i>
<i style="left:527px;top:670px;width:1px;height:16px;background:#b4b4b4"></i>
<i style="left:587px;top:670px;width:37px;height:16px;background:#eeeeee"></i>
<i style="left:588px;top:685px;width:36px;height:1px;background:#fff"></i>
<i style="left:623px;top:670px;width:1px;height:16px;background:#fff"></i>
<i style="left:587px;top:670px;width:36px;height:1px;background:#b4b4b4"></i>
<i style="left:587px;top:670px;width:1px;height:16px;background:#b4b4b4"></i>
<i style="left:627px;top:670px;width:57px;height:16px;background:#fff"></i>
<i style="left:628px;top:685px;width:56px;height:1px;background:#fff"></i>
<i style="left:683px;top:670px;width:1px;height:16px;background:#fff"></i>
<i style="left:627px;top:670px;width:56px;height:1px;background:#b4b4b4"></i>
<i style="left:627px;top:670px;width:1px;height:16px;background:#b4b4b4"></i>
<i style="left:804px;top:22px;width:14px;height:669px;background:#aaaaaa"></i>
<i style="left:804px;top:38px;width:2px;height:623px;background:#999"></i>
<i style="left:804px;top:38px;width:14px;height:2px;background:#999"></i>
<i style="left:804px;top:38px;width:1px;height:623px;background:#888"></i>
<i style="left:804px;top:38px;width:14px;height:1px;background:#888"></i>
<i style="left:816px;top:40px;width:1px;height:621px;background:#bbb"></i>
<i style="left:817px;top:39px;width:1px;height:622px;background:#ddd"></i>
<i style="left:804px;top:22px;width:14px;height:15px;background:#627296"></i>
<i style="left:804px;top:22px;width:13px;height:1px;background:#8090c4"></i>
<i style="left:804px;top:22px;width:1px;height:14px;background:#8090c4"></i>
<i style="left:805px;top:36px;width:13px;height:1px;background:#4a5679"></i>
<i style="left:817px;top:23px;width:1px;height:14px;background:#4a5679"></i>
<i style="left:807px;top:25px;width:7px;height:1px;background:#8a9ad0"></i>
<i style="left:808px;top:26px;width:7px;height:1px;background:#363f5e"></i>
<i style="left:807px;top:27px;width:7px;height:1px;background:#8a9ad0"></i>
<i style="left:808px;top:28px;width:7px;height:1px;background:#363f5e"></i>
<i style="left:807px;top:29px;width:7px;height:1px;background:#8a9ad0"></i>
<i style="left:808px;top:30px;width:7px;height:1px;background:#363f5e"></i>
<i style="left:807px;top:31px;width:7px;height:1px;background:#8a9ad0"></i>
<i style="left:808px;top:32px;width:7px;height:1px;background:#363f5e"></i>
<i style="left:804px;top:37px;width:14px;height:1px;background:#000"></i>
<i style="left:804px;top:661px;width:14px;height:1px;background:#000"></i>
<i style="left:804px;top:662px;width:14px;height:14px;background:#e2e2e2"></i>
<i style="left:804px;top:662px;width:13px;height:1px;background:#fff"></i>
<i style="left:804px;top:662px;width:1px;height:13px;background:#fff"></i>
<i style="left:805px;top:675px;width:13px;height:1px;background:#999"></i>
<i style="left:817px;top:663px;width:1px;height:13px;background:#999"></i>
<i style="left:804px;top:676px;width:14px;height:1px;background:#000"></i>
<i style="left:804px;top:677px;width:14px;height:14px;background:#e2e2e2"></i>
<i style="left:804px;top:677px;width:13px;height:1px;background:#fff"></i>
<i style="left:804px;top:677px;width:1px;height:13px;background:#fff"></i>
<i style="left:805px;top:690px;width:13px;height:1px;background:#999"></i>
<i style="left:817px;top:678px;width:1px;height:13px;background:#999"></i>
<i style="left:810px;top:667px;width:2px;height:1px;background:#000"></i>
<i style="left:810px;top:685px;width:2px;height:1px;background:#000"></i>
<i style="left:809px;top:668px;width:4px;height:1px;background:#000"></i>
<i style="left:809px;top:684px;width:4px;height:1px;background:#000"></i>
<i style="left:808px;top:669px;width:6px;height:1px;background:#000"></i>
<i style="left:808px;top:683px;width:6px;height:1px;background:#000"></i>
<i style="left:807px;top:670px;width:8px;height:1px;background:#000"></i>
<i style="left:807px;top:682px;width:8px;height:1px;background:#000"></i>
<i style="left:5px;top:691px;width:814px;height:1px;background:#000"></i>
<i style="left:5px;top:706px;width:799px;height:1px;background:#000"></i>
<i style="left:803px;top:691px;width:1px;height:16px;background:#000"></i>
<i style="left:6px;top:692px;width:797px;height:14px;background:#eeeeee"></i>
<i style="left:6px;top:692px;width:23px;height:14px;background:#e2e2e2"></i>
<i style="left:6px;top:692px;width:22px;height:1px;background:#fff"></i>
<i style="left:6px;top:692px;width:1px;height:13px;background:#fff"></i>
<i style="left:7px;top:705px;width:22px;height:1px;background:#999"></i>
<i style="left:28px;top:693px;width:1px;height:13px;background:#999"></i>
<i style="left:29px;top:692px;width:1px;height:14px;background:#000"></i>
<i style="left:30px;top:692px;width:12px;height:14px;background:#e2e2e2"></i>
<i style="left:30px;top:692px;width:11px;height:1px;background:#fff"></i>
<i style="left:30px;top:692px;width:1px;height:13px;background:#fff"></i>
<i style="left:31px;top:705px;width:11px;height:1px;background:#999"></i>
<i style="left:41px;top:693px;width:1px;height:13px;background:#999"></i>
<i style="left:42px;top:692px;width:1px;height:14px;background:#000"></i>
<i style="left:43px;top:692px;width:12px;height:14px;background:#e2e2e2"></i>
<i style="left:43px;top:692px;width:11px;height:1px;background:#fff"></i>
<i style="left:43px;top:692px;width:1px;height:13px;background:#fff"></i>
<i style="left:44px;top:705px;width:11px;height:1px;background:#999"></i>
<i style="left:54px;top:693px;width:1px;height:13px;background:#999"></i>
<i style="left:55px;top:692px;width:1px;height:14px;background:#000"></i>
<i style="left:56px;top:692px;width:18px;height:14px;background:#e2e2e2"></i>
<i style="left:56px;top:692px;width:17px;height:1px;background:#fff"></i>
<i style="left:56px;top:692px;width:1px;height:13px;background:#fff"></i>
<i style="left:57px;top:705px;width:17px;height:1px;background:#999"></i>
<i style="left:73px;top:693px;width:1px;height:13px;background:#999"></i>
<i style="left:74px;top:692px;width:1px;height:14px;background:#000"></i>
<i style="left:75px;top:692px;width:70px;height:14px;background:#e2e2e2"></i>
<i style="left:75px;top:692px;width:69px;height:1px;background:#fff"></i>
<i style="left:75px;top:692px;width:1px;height:13px;background:#fff"></i>
<i style="left:76px;top:705px;width:69px;height:1px;background:#999"></i>
<i style="left:144px;top:693px;width:1px;height:13px;background:#999"></i>
<i style="left:145px;top:692px;width:1px;height:14px;background:#000"></i>
<i style="left:146px;top:692px;width:627px;height:1px;background:#fff"></i>
<i style="left:146px;top:692px;width:1px;height:14px;background:#fff"></i>
<i style="left:773px;top:692px;width:1px;height:14px;background:#000"></i>
<i style="left:774px;top:692px;width:14px;height:14px;background:#e2e2e2"></i>
<i style="left:774px;top:692px;width:13px;height:1px;background:#fff"></i>
<i style="left:774px;top:692px;width:1px;height:13px;background:#fff"></i>
<i style="left:775px;top:705px;width:13px;height:1px;background:#999"></i>
<i style="left:787px;top:693px;width:1px;height:13px;background:#999"></i>
<i style="left:788px;top:692px;width:1px;height:14px;background:#000"></i>
<i style="left:789px;top:692px;width:14px;height:14px;background:#e2e2e2"></i>
<i style="left:789px;top:692px;width:13px;height:1px;background:#fff"></i>
<i style="left:789px;top:692px;width:1px;height:13px;background:#fff"></i>
<i style="left:790px;top:705px;width:13px;height:1px;background:#999"></i>
<i style="left:802px;top:693px;width:1px;height:13px;background:#999"></i>
<i style="left:779px;top:698px;width:1px;height:2px;background:#888"></i>
<i style="left:797px;top:698px;width:1px;height:2px;background:#888"></i>
<i style="left:780px;top:697px;width:1px;height:4px;background:#888"></i>
<i style="left:796px;top:697px;width:1px;height:4px;background:#888"></i>
<i style="left:781px;top:696px;width:1px;height:6px;background:#888"></i>
<i style="left:795px;top:696px;width:1px;height:6px;background:#888"></i>
<i style="left:782px;top:695px;width:1px;height:8px;background:#888"></i>
<i style="left:794px;top:695px;width:1px;height:8px;background:#888"></i>
<b style="left:8.60px;top:694px;font:normal normal 10px/11px 'Liberation Sans';letter-spacing:0.125px;color:#000;-webkit-text-stroke:0.12px;">100</b>
<b style="left:86.00px;top:693px;font:normal normal 9.5px/11px 'Liberation Sans';letter-spacing:0.150px;color:#000;transform:scaleX(1.0193);-webkit-text-stroke:0.12px;">Browse</b>
<i style="left:38px;top:700px;width:1px;height:1px;background:#000"></i>
<i style="left:37px;top:701px;width:3px;height:1px;background:#000"></i>
<i style="left:33px;top:702px;width:1px;height:1px;background:#000"></i>
<i style="left:36px;top:702px;width:5px;height:1px;background:#000"></i>
<i style="left:32px;top:703px;width:9px;height:1px;background:#000"></i>
<i style="left:31px;top:704px;width:10px;height:1px;background:#000"></i>
<i style="left:53px;top:695px;width:1px;height:1px;background:#000"></i>
<i style="left:52px;top:696px;width:2px;height:1px;background:#000"></i>
<i style="left:51px;top:697px;width:3px;height:1px;background:#000"></i>
<i style="left:50px;top:698px;width:4px;height:1px;background:#000"></i>
<i style="left:45px;top:699px;width:1px;height:1px;background:#000"></i>
<i style="left:49px;top:699px;width:5px;height:1px;background:#000"></i>
<i style="left:44px;top:700px;width:3px;height:1px;background:#000"></i>
<i style="left:48px;top:700px;width:6px;height:1px;background:#000"></i>
<i style="left:44px;top:701px;width:10px;height:1px;background:#000"></i>
<i style="left:44px;top:702px;width:10px;height:1px;background:#000"></i>
<i style="left:44px;top:703px;width:10px;height:1px;background:#000"></i>
<i style="left:44px;top:704px;width:10px;height:1px;background:#000"></i>
<i style="left:58px;top:694px;width:14px;height:10px;background:#000"></i>
<i style="left:59px;top:695px;width:12px;height:1px;background:#fff"></i>
<i style="left:63px;top:697px;width:8px;height:6px;background:#fff"></i>
<i style="left:64px;top:698px;width:6px;height:4px;background:#ddd"></i>
<i style="left:60px;top:697px;width:1px;height:1px;background:#fff"></i>
<i style="left:59px;top:698px;width:1px;height:1px;background:#fff"></i>
<i style="left:61px;top:698px;width:1px;height:1px;background:#fff"></i>
<i style="left:60px;top:699px;width:1px;height:1px;background:#fff"></i>
<i style="left:59px;top:700px;width:1px;height:1px;background:#fff"></i>
<i style="left:61px;top:700px;width:1px;height:1px;background:#fff"></i>
<i style="left:60px;top:701px;width:1px;height:1px;background:#fff"></i>
<i style="left:59px;top:702px;width:1px;height:1px;background:#fff"></i>
<i style="left:61px;top:702px;width:1px;height:1px;background:#fff"></i>
<svg style="left:804px;top:692px" width="16" height="16" viewBox="804 692 16 16"><g stroke-width="1.1" fill="none"><path d="M807.5 700.5 L813.5 694.5 M809.5 702.5 L815.5 696.5 M811.5 704.5 L817.5 698.5" stroke="#fff"/><path d="M808.5 701.5 L814.5 695.5 M810.5 703.5 L816.5 697.5 M812.5 705.5 L818.5 699.5" stroke="#777"/></g></svg>
</div></body></html>
